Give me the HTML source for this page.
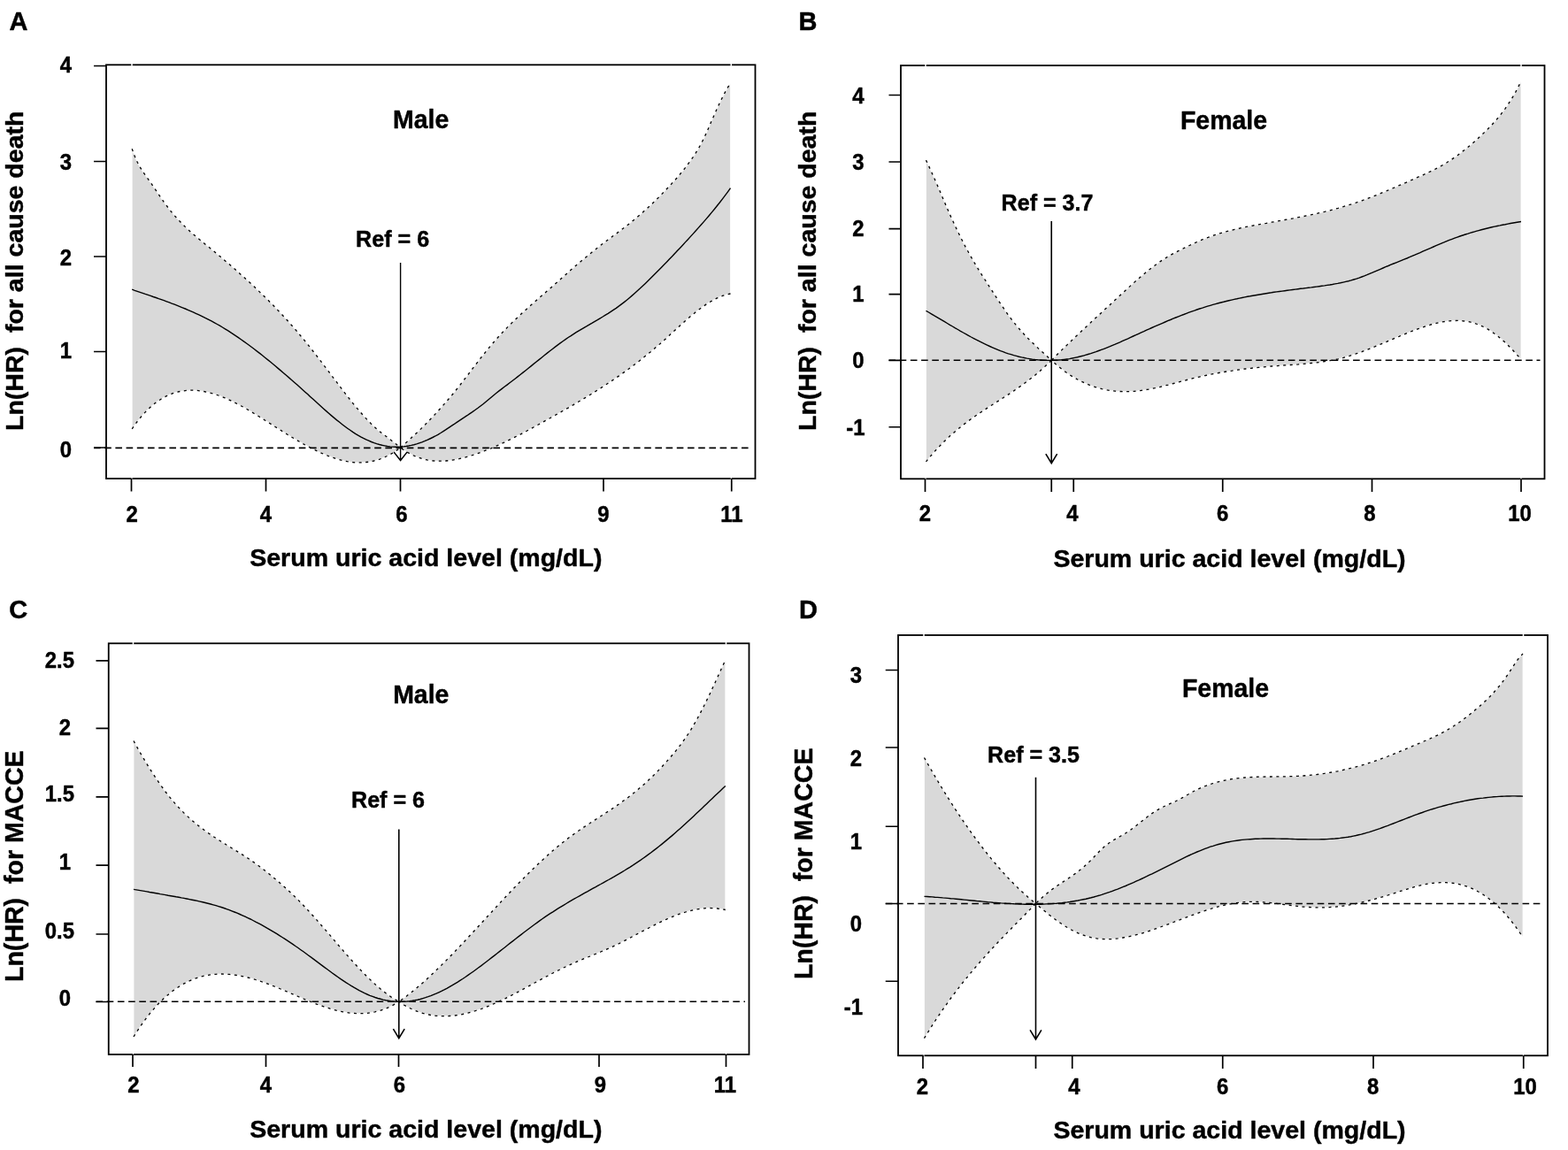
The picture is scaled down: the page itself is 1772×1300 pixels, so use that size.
<!DOCTYPE html>
<html lang="en"><head><meta charset="utf-8"><title>Serum uric acid level and Ln(HR)</title>
<style>
html,body{margin:0;padding:0;background:#fff;}
body{width:1772px;height:1300px;overflow:hidden;}
svg{display:block;}
text{font-family:"Liberation Sans",sans-serif;font-weight:700;fill:#000;stroke:#000;stroke-width:0.45px;stroke-linejoin:round;}
.lab{font-size:29px;}
.tk{font-size:23.9px;}
.ax{font-size:28.55px;}
.tt{font-size:28.5px;}
.rf{font-size:25.1px;}
.box{fill:none;stroke:#000;stroke-width:1.8;}
.tick{stroke:#000;stroke-width:1.7;fill:none;}
.band{fill:#d9d9d9;stroke:#fff;stroke-width:0.8;stroke-linejoin:round;}
.ci{fill:none;stroke:#000;stroke-width:1.3;stroke-dasharray:3 4.5;}
.mean{fill:none;stroke:#000;stroke-width:1.4;}
.zero{fill:none;stroke:#000;stroke-width:1.6;stroke-dasharray:7.6 4.6;}
.arr{fill:none;stroke:#000;stroke-width:1.6;}
</style></head><body>
<svg width="1772" height="1300" viewBox="0 0 1772 1300" role="img" aria-label="Ln(HR) versus serum uric acid level, four panels">
<rect x="0" y="0" width="1772" height="1300" fill="#fff"/>
<g>
<path class="band" d="M149.2 168.3L152.2 176.5L155.2 183.3L158.2 188.9L161.2 193.7L164.2 198.0L167.2 202.2L170.2 206.4L173.2 210.8L176.2 215.2L179.2 219.6L182.2 224.0L185.2 228.3L188.2 232.4L191.2 236.4L194.2 240.1L197.2 243.7L200.3 247.1L203.3 250.3L206.3 253.4L209.3 256.4L212.3 259.2L215.3 262.0L218.3 264.7L221.3 267.2L224.3 269.8L227.3 272.3L230.3 274.7L233.3 277.2L236.3 279.6L239.3 282.1L242.3 284.6L245.3 287.1L248.3 289.6L251.3 292.1L254.3 294.7L257.3 297.2L260.3 299.8L263.3 302.4L266.3 305.0L269.3 307.7L272.3 310.4L275.3 313.1L278.3 315.8L281.3 318.5L284.3 321.3L287.3 324.1L290.3 327.0L293.3 329.9L296.3 332.8L299.3 335.7L302.4 338.7L305.4 341.8L308.4 344.8L311.4 347.9L314.4 351.1L317.4 354.3L320.4 357.5L323.4 360.8L326.4 364.1L329.4 367.5L332.4 371.0L335.4 374.4L338.4 378.0L341.4 381.6L344.4 385.2L347.4 388.9L350.4 392.7L353.4 396.5L356.4 400.3L359.4 404.2L362.4 408.1L365.4 412.1L368.4 416.0L371.4 420.0L374.4 424.0L377.4 428.0L380.4 431.9L383.4 435.9L386.4 439.9L389.4 443.8L392.4 447.7L395.4 451.5L398.4 455.3L401.4 459.0L404.5 462.6L407.5 466.2L410.5 469.6L413.5 472.9L416.5 476.1L419.5 479.1L422.5 482.0L425.5 484.7L428.5 487.2L431.5 489.7L434.5 492.0L437.5 494.2L440.5 496.5L443.5 498.8L446.5 501.1L449.5 503.5L452.5 506.0L455.5 503.4L458.5 500.7L461.5 498.0L464.5 495.3L467.5 492.5L470.5 489.7L473.6 486.8L476.6 483.9L479.6 480.9L482.6 477.8L485.6 474.7L488.6 471.6L491.6 468.4L494.6 465.1L497.6 461.8L500.6 458.4L503.6 455.0L506.6 451.5L509.7 447.9L512.7 444.2L515.7 440.5L518.7 436.8L521.7 432.9L524.7 429.0L527.7 425.1L530.7 421.2L533.7 417.2L536.7 413.3L539.7 409.3L542.7 405.4L545.8 401.6L548.8 397.8L551.8 394.1L554.8 390.5L557.8 387.0L560.8 383.5L563.8 380.2L566.8 376.9L569.8 373.8L572.8 370.6L575.8 367.6L578.8 364.6L581.8 361.7L584.9 358.8L587.9 356.0L590.9 353.2L593.9 350.5L596.9 347.7L599.9 345.1L602.9 342.4L605.9 339.8L608.9 337.1L611.9 334.5L614.9 331.9L617.9 329.3L621.0 326.6L624.0 324.0L627.0 321.3L630.0 318.7L633.0 316.0L636.0 313.3L639.0 310.7L642.0 308.0L645.0 305.3L648.0 302.7L651.0 300.1L654.0 297.5L657.0 294.9L660.1 292.4L663.1 289.9L666.1 287.4L669.1 285.0L672.1 282.6L675.1 280.3L678.1 277.9L681.1 275.6L684.1 273.4L687.1 271.1L690.1 268.9L693.1 266.6L696.2 264.3L699.2 262.1L702.2 259.8L705.2 257.5L708.2 255.2L711.2 252.8L714.2 250.4L717.2 247.9L720.2 245.4L723.2 242.9L726.2 240.2L729.2 237.5L732.2 234.8L735.3 231.9L738.3 229.0L741.3 226.1L744.3 223.1L747.3 220.0L750.3 216.9L753.3 213.8L756.3 210.6L759.3 207.4L762.3 204.1L765.3 200.7L768.3 197.1L771.4 193.5L774.4 189.7L777.4 185.7L780.4 181.6L783.4 177.3L786.4 172.7L789.4 167.8L792.4 162.4L795.4 156.5L798.4 150.0L801.4 143.2L804.4 136.1L807.5 129.2L810.5 122.5L813.5 116.0L816.5 109.9L819.5 104.1L822.5 98.8L825.5 93.8L825.5 332.5L822.5 332.6L819.5 333.4L816.5 334.4L813.5 335.6L810.5 336.9L807.5 338.4L804.4 340.1L801.4 341.9L798.4 343.8L795.4 345.9L792.4 348.0L789.4 350.3L786.4 352.7L783.4 355.1L780.4 357.6L777.4 360.2L774.4 362.8L771.4 365.5L768.3 368.2L765.3 371.0L762.3 373.7L759.3 376.5L756.3 379.2L753.3 382.0L750.3 384.7L747.3 387.4L744.3 390.0L741.3 392.6L738.3 395.2L735.3 397.7L732.2 400.1L729.2 402.6L726.2 405.0L723.2 407.4L720.2 409.7L717.2 412.0L714.2 414.3L711.2 416.5L708.2 418.7L705.2 420.9L702.2 423.0L699.2 425.1L696.2 427.2L693.1 429.3L690.1 431.3L687.1 433.3L684.1 435.3L681.1 437.3L678.1 439.2L675.1 441.1L672.1 443.0L669.1 444.9L666.1 446.8L663.1 448.6L660.1 450.4L657.0 452.2L654.0 454.0L651.0 455.8L648.0 457.6L645.0 459.3L642.0 461.1L639.0 462.8L636.0 464.5L633.0 466.2L630.0 467.9L627.0 469.6L624.0 471.3L621.0 473.0L617.9 474.7L614.9 476.4L611.9 478.1L608.9 479.7L605.9 481.4L602.9 483.0L599.9 484.7L596.9 486.3L593.9 487.9L590.9 489.5L587.9 491.1L584.9 492.6L581.8 494.2L578.8 495.7L575.8 497.2L572.8 498.6L569.8 500.1L566.8 501.5L563.8 502.9L560.8 504.2L557.8 505.5L554.8 506.8L551.8 508.0L548.8 509.2L545.8 510.4L542.7 511.5L539.7 512.6L536.7 513.6L533.7 514.6L530.7 515.5L527.7 516.4L524.7 517.2L521.7 518.0L518.7 518.7L515.7 519.3L512.7 519.8L509.7 520.3L506.6 520.7L503.6 521.0L500.6 521.2L497.6 521.2L494.6 521.2L491.6 521.0L488.6 520.8L485.6 520.4L482.6 519.9L479.6 519.2L476.6 518.4L473.6 517.4L470.5 516.3L467.5 515.0L464.5 513.6L461.5 511.9L458.5 510.1L455.5 508.2L452.5 506.0L449.5 508.2L446.5 510.3L443.5 512.2L440.5 514.0L437.5 515.5L434.5 516.9L431.5 518.2L428.5 519.3L425.5 520.2L422.5 521.0L419.5 521.7L416.5 522.2L413.5 522.5L410.5 522.8L407.5 522.9L404.5 522.9L401.4 522.8L398.4 522.5L395.4 522.1L392.4 521.7L389.4 521.1L386.4 520.4L383.4 519.6L380.4 518.7L377.4 517.7L374.4 516.7L371.4 515.6L368.4 514.4L365.4 513.1L362.4 511.8L359.4 510.4L356.4 508.9L353.4 507.4L350.4 505.9L347.4 504.3L344.4 502.7L341.4 501.0L338.4 499.3L335.4 497.6L332.4 495.8L329.4 494.0L326.4 492.2L323.4 490.3L320.4 488.4L317.4 486.5L314.4 484.6L311.4 482.7L308.4 480.8L305.4 478.9L302.4 476.9L299.3 475.0L296.3 473.1L293.3 471.2L290.3 469.3L287.3 467.5L284.3 465.7L281.3 463.9L278.3 462.1L275.3 460.4L272.3 458.8L269.3 457.1L266.3 455.6L263.3 454.1L260.3 452.6L257.3 451.2L254.3 449.9L251.3 448.7L248.3 447.5L245.3 446.5L242.3 445.5L239.3 444.6L236.3 443.8L233.3 443.1L230.3 442.5L227.3 442.0L224.3 441.6L221.3 441.3L218.3 441.2L215.3 441.2L212.3 441.3L209.3 441.6L206.3 442.0L203.3 442.5L200.3 443.2L197.2 444.1L194.2 445.1L191.2 446.3L188.2 447.7L185.2 449.2L182.2 451.0L179.2 453.0L176.2 455.1L173.2 457.5L170.2 460.1L167.2 462.9L164.2 465.9L161.2 469.2L158.2 472.7L155.2 476.5L152.2 480.5L149.2 484.8Z"/>
<line class="zero" x1="106" y1="506.4" x2="848" y2="506.4"/>
<path class="ci" d="M149.2 168.3L152.2 176.5L155.2 183.3L158.2 188.9L161.2 193.7L164.2 198.0L167.2 202.2L170.2 206.4L173.2 210.8L176.2 215.2L179.2 219.6L182.2 224.0L185.2 228.3L188.2 232.4L191.2 236.4L194.2 240.1L197.2 243.7L200.3 247.1L203.3 250.3L206.3 253.4L209.3 256.4L212.3 259.2L215.3 262.0L218.3 264.7L221.3 267.2L224.3 269.8L227.3 272.3L230.3 274.7L233.3 277.2L236.3 279.6L239.3 282.1L242.3 284.6L245.3 287.1L248.3 289.6L251.3 292.1L254.3 294.7L257.3 297.2L260.3 299.8L263.3 302.4L266.3 305.0L269.3 307.7L272.3 310.4L275.3 313.1L278.3 315.8L281.3 318.5L284.3 321.3L287.3 324.1L290.3 327.0L293.3 329.9L296.3 332.8L299.3 335.7L302.4 338.7L305.4 341.8L308.4 344.8L311.4 347.9L314.4 351.1L317.4 354.3L320.4 357.5L323.4 360.8L326.4 364.1L329.4 367.5L332.4 371.0L335.4 374.4L338.4 378.0L341.4 381.6L344.4 385.2L347.4 388.9L350.4 392.7L353.4 396.5L356.4 400.3L359.4 404.2L362.4 408.1L365.4 412.1L368.4 416.0L371.4 420.0L374.4 424.0L377.4 428.0L380.4 431.9L383.4 435.9L386.4 439.9L389.4 443.8L392.4 447.7L395.4 451.5L398.4 455.3L401.4 459.0L404.5 462.6L407.5 466.2L410.5 469.6L413.5 472.9L416.5 476.1L419.5 479.1L422.5 482.0L425.5 484.7L428.5 487.2L431.5 489.7L434.5 492.0L437.5 494.2L440.5 496.5L443.5 498.8L446.5 501.1L449.5 503.5L452.5 506.0L455.5 503.4L458.5 500.7L461.5 498.0L464.5 495.3L467.5 492.5L470.5 489.7L473.6 486.8L476.6 483.9L479.6 480.9L482.6 477.8L485.6 474.7L488.6 471.6L491.6 468.4L494.6 465.1L497.6 461.8L500.6 458.4L503.6 455.0L506.6 451.5L509.7 447.9L512.7 444.2L515.7 440.5L518.7 436.8L521.7 432.9L524.7 429.0L527.7 425.1L530.7 421.2L533.7 417.2L536.7 413.3L539.7 409.3L542.7 405.4L545.8 401.6L548.8 397.8L551.8 394.1L554.8 390.5L557.8 387.0L560.8 383.5L563.8 380.2L566.8 376.9L569.8 373.8L572.8 370.6L575.8 367.6L578.8 364.6L581.8 361.7L584.9 358.8L587.9 356.0L590.9 353.2L593.9 350.5L596.9 347.7L599.9 345.1L602.9 342.4L605.9 339.8L608.9 337.1L611.9 334.5L614.9 331.9L617.9 329.3L621.0 326.6L624.0 324.0L627.0 321.3L630.0 318.7L633.0 316.0L636.0 313.3L639.0 310.7L642.0 308.0L645.0 305.3L648.0 302.7L651.0 300.1L654.0 297.5L657.0 294.9L660.1 292.4L663.1 289.9L666.1 287.4L669.1 285.0L672.1 282.6L675.1 280.3L678.1 277.9L681.1 275.6L684.1 273.4L687.1 271.1L690.1 268.9L693.1 266.6L696.2 264.3L699.2 262.1L702.2 259.8L705.2 257.5L708.2 255.2L711.2 252.8L714.2 250.4L717.2 247.9L720.2 245.4L723.2 242.9L726.2 240.2L729.2 237.5L732.2 234.8L735.3 231.9L738.3 229.0L741.3 226.1L744.3 223.1L747.3 220.0L750.3 216.9L753.3 213.8L756.3 210.6L759.3 207.4L762.3 204.1L765.3 200.7L768.3 197.1L771.4 193.5L774.4 189.7L777.4 185.7L780.4 181.6L783.4 177.3L786.4 172.7L789.4 167.8L792.4 162.4L795.4 156.5L798.4 150.0L801.4 143.2L804.4 136.1L807.5 129.2L810.5 122.5L813.5 116.0L816.5 109.9L819.5 104.1L822.5 98.8L825.5 93.8"/>
<path class="ci" d="M149.2 484.8L152.2 480.5L155.2 476.5L158.2 472.7L161.2 469.2L164.2 465.9L167.2 462.9L170.2 460.1L173.2 457.5L176.2 455.1L179.2 453.0L182.2 451.0L185.2 449.2L188.2 447.7L191.2 446.3L194.2 445.1L197.2 444.1L200.3 443.2L203.3 442.5L206.3 442.0L209.3 441.6L212.3 441.3L215.3 441.2L218.3 441.2L221.3 441.3L224.3 441.6L227.3 442.0L230.3 442.5L233.3 443.1L236.3 443.8L239.3 444.6L242.3 445.5L245.3 446.5L248.3 447.5L251.3 448.7L254.3 449.9L257.3 451.2L260.3 452.6L263.3 454.1L266.3 455.6L269.3 457.1L272.3 458.8L275.3 460.4L278.3 462.1L281.3 463.9L284.3 465.7L287.3 467.5L290.3 469.3L293.3 471.2L296.3 473.1L299.3 475.0L302.4 476.9L305.4 478.9L308.4 480.8L311.4 482.7L314.4 484.6L317.4 486.5L320.4 488.4L323.4 490.3L326.4 492.2L329.4 494.0L332.4 495.8L335.4 497.6L338.4 499.3L341.4 501.0L344.4 502.7L347.4 504.3L350.4 505.9L353.4 507.4L356.4 508.9L359.4 510.4L362.4 511.8L365.4 513.1L368.4 514.4L371.4 515.6L374.4 516.7L377.4 517.7L380.4 518.7L383.4 519.6L386.4 520.4L389.4 521.1L392.4 521.7L395.4 522.1L398.4 522.5L401.4 522.8L404.5 522.9L407.5 522.9L410.5 522.8L413.5 522.5L416.5 522.2L419.5 521.7L422.5 521.0L425.5 520.2L428.5 519.3L431.5 518.2L434.5 516.9L437.5 515.5L440.5 514.0L443.5 512.2L446.5 510.3L449.5 508.2L452.5 506.0L455.5 508.2L458.5 510.1L461.5 511.9L464.5 513.6L467.5 515.0L470.5 516.3L473.6 517.4L476.6 518.4L479.6 519.2L482.6 519.9L485.6 520.4L488.6 520.8L491.6 521.0L494.6 521.2L497.6 521.2L500.6 521.2L503.6 521.0L506.6 520.7L509.7 520.3L512.7 519.8L515.7 519.3L518.7 518.7L521.7 518.0L524.7 517.2L527.7 516.4L530.7 515.5L533.7 514.6L536.7 513.6L539.7 512.6L542.7 511.5L545.8 510.4L548.8 509.2L551.8 508.0L554.8 506.8L557.8 505.5L560.8 504.2L563.8 502.9L566.8 501.5L569.8 500.1L572.8 498.6L575.8 497.2L578.8 495.7L581.8 494.2L584.9 492.6L587.9 491.1L590.9 489.5L593.9 487.9L596.9 486.3L599.9 484.7L602.9 483.0L605.9 481.4L608.9 479.7L611.9 478.1L614.9 476.4L617.9 474.7L621.0 473.0L624.0 471.3L627.0 469.6L630.0 467.9L633.0 466.2L636.0 464.5L639.0 462.8L642.0 461.1L645.0 459.3L648.0 457.6L651.0 455.8L654.0 454.0L657.0 452.2L660.1 450.4L663.1 448.6L666.1 446.8L669.1 444.9L672.1 443.0L675.1 441.1L678.1 439.2L681.1 437.3L684.1 435.3L687.1 433.3L690.1 431.3L693.1 429.3L696.2 427.2L699.2 425.1L702.2 423.0L705.2 420.9L708.2 418.7L711.2 416.5L714.2 414.3L717.2 412.0L720.2 409.7L723.2 407.4L726.2 405.0L729.2 402.6L732.2 400.1L735.3 397.7L738.3 395.2L741.3 392.6L744.3 390.0L747.3 387.4L750.3 384.7L753.3 382.0L756.3 379.2L759.3 376.5L762.3 373.7L765.3 371.0L768.3 368.2L771.4 365.5L774.4 362.8L777.4 360.2L780.4 357.6L783.4 355.1L786.4 352.7L789.4 350.3L792.4 348.0L795.4 345.9L798.4 343.8L801.4 341.9L804.4 340.1L807.5 338.4L810.5 336.9L813.5 335.6L816.5 334.4L819.5 333.4L822.5 332.6L825.5 332.0"/>
<path class="mean" d="M149.2 327.2L152.2 328.3L155.2 329.3L158.2 330.3L161.2 331.3L164.2 332.4L167.2 333.4L170.2 334.4L173.2 335.5L176.3 336.5L179.3 337.6L182.3 338.6L185.3 339.7L188.3 340.8L191.3 341.9L194.3 343.1L197.3 344.2L200.3 345.4L203.3 346.6L206.3 347.8L209.3 349.0L212.3 350.3L215.3 351.6L218.3 352.9L221.3 354.3L224.3 355.7L227.4 357.1L230.4 358.6L233.4 360.1L236.4 361.6L239.4 363.2L242.4 364.8L245.4 366.5L248.4 368.2L251.4 370.0L254.4 371.8L257.4 373.7L260.4 375.6L263.4 377.6L266.4 379.6L269.4 381.6L272.4 383.7L275.4 385.9L278.4 388.0L281.5 390.2L284.5 392.5L287.5 394.7L290.5 397.1L293.5 399.4L296.5 401.8L299.5 404.2L302.5 406.6L305.5 409.0L308.5 411.5L311.5 414.0L314.5 416.6L317.5 419.1L320.5 421.7L323.5 424.3L326.5 426.9L329.5 429.5L332.6 432.2L335.6 434.8L338.6 437.5L341.6 440.2L344.6 442.9L347.6 445.6L350.6 448.4L353.6 451.1L356.6 453.8L359.6 456.6L362.6 459.3L365.6 462.0L368.6 464.6L371.6 467.3L374.6 469.9L377.6 472.4L380.6 474.9L383.7 477.3L386.7 479.7L389.7 482.0L392.7 484.2L395.7 486.3L398.7 488.4L401.7 490.3L404.7 492.1L407.7 493.8L410.7 495.4L413.7 496.9L416.7 498.2L419.7 499.5L422.7 500.6L425.7 501.6L428.7 502.5L431.7 503.3L434.7 503.9L437.8 504.5L440.8 504.9L443.8 505.1L446.8 505.2L449.8 505.3L452.8 505.1L455.8 504.9L458.8 504.5L461.8 504.0L464.8 503.4L467.8 502.7L470.8 501.9L473.8 500.9L476.8 499.9L479.8 498.7L482.8 497.4L485.8 496.0L488.9 494.5L491.9 493.0L494.9 491.3L497.9 489.5L500.9 487.6L503.9 485.7L506.9 483.7L509.9 481.7L512.9 479.7L515.9 477.6L518.9 475.6L521.9 473.6L524.9 471.7L527.9 469.7L530.9 467.6L533.9 465.6L536.9 463.5L540.0 461.3L543.0 459.0L546.0 456.7L549.0 454.2L552.0 451.7L555.0 449.2L558.0 446.7L561.0 444.3L564.0 441.9L567.0 439.6L570.0 437.3L573.0 435.1L576.0 432.8L579.0 430.5L582.0 428.2L585.0 425.9L588.0 423.5L591.0 421.1L594.1 418.7L597.1 416.3L600.1 413.9L603.1 411.4L606.1 409.0L609.1 406.6L612.1 404.2L615.1 401.7L618.1 399.4L621.1 397.0L624.1 394.7L627.1 392.4L630.1 390.1L633.1 387.9L636.1 385.7L639.1 383.6L642.1 381.5L645.2 379.6L648.2 377.6L651.2 375.7L654.2 373.9L657.2 372.1L660.2 370.3L663.2 368.6L666.2 366.8L669.2 365.1L672.2 363.3L675.2 361.6L678.2 359.8L681.2 358.0L684.2 356.1L687.2 354.3L690.2 352.3L693.2 350.3L696.3 348.3L699.3 346.1L702.3 343.9L705.3 341.6L708.3 339.2L711.3 336.7L714.3 334.1L717.3 331.5L720.3 328.8L723.3 326.1L726.3 323.2L729.3 320.4L732.3 317.5L735.3 314.5L738.3 311.5L741.3 308.5L744.3 305.5L747.3 302.4L750.4 299.3L753.4 296.2L756.4 293.1L759.4 290.0L762.4 286.8L765.4 283.6L768.4 280.4L771.4 277.2L774.4 273.9L777.4 270.7L780.4 267.4L783.4 264.1L786.4 260.8L789.4 257.4L792.4 254.0L795.4 250.6L798.4 247.1L801.5 243.5L804.5 239.9L807.5 236.3L810.5 232.5L813.5 228.8L816.5 224.9L819.5 220.9L822.5 216.8L825.5 212.6"/>
<path class="arr" style="stroke-width:1.4" d="M452.6 297L452.6 520.5M445.1 511.0L452.6 520.5L460.1 511.0"/>
<rect class="box" x="120" y="73.3" width="733.5" height="467.7"/>
<rect x="148.25" y="71.8" width="1.5" height="3" fill="#fff"/>
<rect x="148.4" y="539.5" width="1.2" height="3" fill="#fff" opacity="0.8"/>
<rect x="825.55" y="71.8" width="1.5" height="3" fill="#fff"/>
<rect x="825.6999999999999" y="539.5" width="1.2" height="3" fill="#fff" opacity="0.8"/>
<path class="tick" d="M106 74.5H120M106 182.5H120M106 290H120M106 397.5H120M106 506H120M148.5 541.0V555.5M300.5 541.0V555.5M452.5 541.0V555.5M682 541.0V555.5M826.75 541.0V555.5"/>
<text class="tk" text-anchor="end" transform="translate(81 81.8) scale(1 1.04)">4</text>
<text class="tk" text-anchor="end" transform="translate(81 191.8) scale(1 1.04)">3</text>
<text class="tk" text-anchor="end" transform="translate(81 300.0) scale(1 1.04)">2</text>
<text class="tk" text-anchor="end" transform="translate(81 405.0) scale(1 1.04)">1</text>
<text class="tk" text-anchor="end" transform="translate(81 516.5) scale(1 1.04)">0</text>
<text class="tk" text-anchor="middle" transform="translate(149.25 590) scale(1 1.04)">2</text>
<text class="tk" text-anchor="middle" transform="translate(300.4 590) scale(1 1.04)">4</text>
<text class="tk" text-anchor="middle" transform="translate(454 590) scale(1 1.04)">6</text>
<text class="tk" text-anchor="middle" transform="translate(682 590) scale(1 1.04)">9</text>
<text class="tk" text-anchor="middle" transform="translate(827 590) scale(1 1.04)">11</text>
<text class="tt" text-anchor="middle" transform="translate(475.6 144.5) scale(1 1.02)">Male</text>
<text class="rf" text-anchor="middle" transform="translate(443.6 278.8) scale(1 1.02)">Ref = 6</text>
<text class="ax" text-anchor="middle" transform="translate(481.3 639.5) scale(1 1.0)">Serum uric acid level (mg/dL)</text>
<text class="ax" text-anchor="middle" xml:space="preserve" style="white-space:pre" transform="translate(26.3 306.3) rotate(-90) scale(1 0.98)">Ln(HR)  for all cause death</text>
<text class="lab" transform="translate(10.5 34.3) scale(1 1.04)">A</text>
</g>
<g>
<path class="band" d="M1046.5 181.1L1049.5 187.4L1052.5 194.0L1055.5 200.8L1058.6 207.7L1061.6 214.8L1064.6 221.9L1067.6 228.9L1070.6 235.9L1073.6 242.8L1076.7 249.5L1079.7 256.0L1082.7 262.3L1085.7 268.5L1088.7 274.4L1091.7 280.2L1094.8 285.8L1097.8 291.1L1100.8 296.4L1103.8 301.4L1106.8 306.3L1109.8 311.1L1112.9 315.9L1115.9 320.6L1118.9 325.2L1121.9 329.9L1124.9 334.6L1127.9 339.2L1130.9 343.7L1134.0 348.2L1137.0 352.6L1140.0 356.8L1143.0 360.8L1146.0 364.7L1149.0 368.4L1152.1 372.0L1155.1 375.4L1158.1 378.7L1161.1 381.8L1164.1 384.9L1167.1 387.8L1170.2 390.7L1173.2 393.6L1176.2 396.4L1179.2 399.1L1182.2 401.8L1185.2 404.6L1188.2 407.3L1191.2 404.3L1194.2 401.3L1197.2 398.3L1200.2 395.4L1203.2 392.5L1206.2 389.6L1209.2 386.7L1212.2 383.8L1215.2 380.9L1218.2 378.1L1221.2 375.3L1224.2 372.5L1227.2 369.7L1230.2 366.9L1233.2 364.1L1236.2 361.3L1239.2 358.5L1242.2 355.7L1245.2 353.0L1248.2 350.2L1251.2 347.4L1254.2 344.7L1257.2 341.9L1260.2 339.1L1263.2 336.3L1266.2 333.5L1269.2 330.8L1272.2 328.0L1275.2 325.2L1278.2 322.5L1281.2 319.8L1284.2 317.1L1287.2 314.5L1290.2 311.9L1293.2 309.4L1296.2 306.9L1299.2 304.5L1302.2 302.2L1305.2 299.9L1308.2 297.7L1311.2 295.6L1314.2 293.6L1317.2 291.7L1320.2 289.9L1323.2 288.2L1326.2 286.5L1329.2 284.9L1332.2 283.4L1335.2 281.9L1338.2 280.4L1341.2 279.0L1344.2 277.5L1347.2 276.1L1350.2 274.7L1353.2 273.3L1356.2 272.0L1359.2 270.7L1362.2 269.5L1365.2 268.4L1368.2 267.2L1371.2 266.2L1374.2 265.2L1377.2 264.2L1380.2 263.3L1383.2 262.4L1386.2 261.6L1389.2 260.8L1392.2 260.1L1395.2 259.3L1398.2 258.6L1401.1 258.0L1404.1 257.3L1407.1 256.7L1410.1 256.1L1413.1 255.5L1416.1 255.0L1419.1 254.4L1422.1 253.9L1425.1 253.3L1428.1 252.8L1431.1 252.3L1434.1 251.7L1437.1 251.2L1440.1 250.7L1443.1 250.1L1446.1 249.6L1449.1 249.1L1452.1 248.5L1455.1 248.0L1458.1 247.4L1461.1 246.9L1464.1 246.3L1467.1 245.7L1470.1 245.1L1473.1 244.6L1476.1 243.9L1479.1 243.3L1482.1 242.7L1485.1 242.0L1488.1 241.4L1491.1 240.7L1494.1 240.0L1497.1 239.3L1500.1 238.5L1503.1 237.8L1506.1 237.0L1509.1 236.2L1512.1 235.4L1515.1 234.5L1518.1 233.6L1521.1 232.7L1524.1 231.8L1527.1 230.9L1530.1 229.9L1533.1 228.9L1536.1 227.8L1539.1 226.8L1542.1 225.7L1545.1 224.6L1548.1 223.4L1551.1 222.3L1554.1 221.1L1557.1 219.9L1560.1 218.7L1563.1 217.4L1566.1 216.2L1569.1 214.9L1572.1 213.6L1575.1 212.3L1578.1 211.0L1581.1 209.7L1584.1 208.4L1587.1 207.1L1590.1 205.8L1593.1 204.5L1596.1 203.1L1599.1 201.8L1602.1 200.4L1605.1 199.1L1608.1 197.8L1611.1 196.4L1614.0 195.0L1617.0 193.6L1620.0 192.2L1623.0 190.6L1626.0 189.0L1629.0 187.4L1632.0 185.6L1635.0 183.8L1638.0 181.8L1641.0 179.9L1644.0 177.8L1647.0 175.7L1650.0 173.4L1653.0 171.1L1656.0 168.8L1659.0 166.3L1662.0 163.8L1665.0 161.2L1668.0 158.6L1671.0 155.8L1674.0 153.0L1677.0 150.1L1680.0 147.2L1683.0 144.1L1686.0 141.0L1689.0 137.7L1692.0 134.3L1695.0 130.7L1698.0 126.8L1701.0 122.8L1704.0 118.4L1707.0 113.8L1710.0 108.9L1713.0 103.6L1716.0 97.9L1719.0 91.8L1719.0 406.0L1716.0 402.9L1713.0 399.5L1710.0 396.2L1707.0 393.1L1704.0 390.1L1701.0 387.2L1698.0 384.5L1695.0 381.9L1692.0 379.4L1689.0 377.2L1686.0 375.0L1683.0 373.1L1680.0 371.3L1677.0 369.7L1674.0 368.3L1671.0 367.0L1668.0 366.0L1665.0 365.0L1662.0 364.2L1659.0 363.6L1656.0 363.1L1653.0 362.8L1650.0 362.5L1647.0 362.4L1644.0 362.5L1641.0 362.6L1638.0 362.8L1635.0 363.2L1632.0 363.6L1629.0 364.1L1626.0 364.7L1623.0 365.4L1620.0 366.2L1617.0 367.0L1614.0 367.9L1611.1 368.8L1608.1 369.8L1605.1 370.9L1602.1 371.9L1599.1 373.1L1596.1 374.2L1593.1 375.4L1590.1 376.6L1587.1 377.8L1584.1 379.0L1581.1 380.3L1578.1 381.5L1575.1 382.8L1572.1 384.1L1569.1 385.4L1566.1 386.7L1563.1 387.9L1560.1 389.2L1557.1 390.4L1554.1 391.7L1551.1 392.9L1548.1 394.1L1545.1 395.3L1542.1 396.4L1539.1 397.6L1536.1 398.7L1533.1 399.7L1530.1 400.7L1527.1 401.7L1524.1 402.6L1521.1 403.5L1518.1 404.3L1515.1 405.0L1512.1 405.8L1509.1 406.4L1506.1 407.0L1503.1 407.6L1500.1 408.1L1497.1 408.6L1494.1 409.1L1491.1 409.5L1488.1 409.9L1485.1 410.2L1482.1 410.5L1479.1 410.8L1476.1 411.1L1473.1 411.4L1470.1 411.6L1467.1 411.9L1464.1 412.1L1461.1 412.3L1458.1 412.5L1455.1 412.7L1452.1 412.9L1449.1 413.1L1446.1 413.4L1443.1 413.6L1440.1 413.8L1437.1 414.0L1434.1 414.3L1431.1 414.5L1428.1 414.8L1425.1 415.1L1422.1 415.4L1419.1 415.7L1416.1 416.0L1413.1 416.3L1410.1 416.7L1407.1 417.0L1404.1 417.4L1401.1 417.8L1398.2 418.2L1395.2 418.6L1392.2 419.1L1389.2 419.5L1386.2 420.0L1383.2 420.5L1380.2 421.0L1377.2 421.5L1374.2 422.1L1371.2 422.6L1368.2 423.2L1365.2 423.8L1362.2 424.5L1359.2 425.1L1356.2 425.8L1353.2 426.5L1350.2 427.2L1347.2 427.9L1344.2 428.7L1341.2 429.5L1338.2 430.3L1335.2 431.1L1332.2 431.9L1329.2 432.7L1326.2 433.5L1323.2 434.3L1320.2 435.1L1317.2 435.8L1314.2 436.6L1311.2 437.3L1308.2 438.0L1305.2 438.7L1302.2 439.3L1299.2 439.9L1296.2 440.4L1293.2 440.9L1290.2 441.3L1287.2 441.7L1284.2 442.0L1281.2 442.3L1278.2 442.5L1275.2 442.6L1272.2 442.7L1269.2 442.6L1266.2 442.5L1263.2 442.4L1260.2 442.1L1257.2 441.8L1254.2 441.4L1251.2 440.9L1248.2 440.3L1245.2 439.6L1242.2 438.8L1239.2 438.0L1236.2 437.0L1233.2 436.0L1230.2 434.8L1227.2 433.6L1224.2 432.2L1221.2 430.8L1218.2 429.2L1215.2 427.5L1212.2 425.8L1209.2 423.9L1206.2 421.9L1203.2 419.7L1200.2 417.5L1197.2 415.1L1194.2 412.6L1191.2 410.0L1188.2 407.3L1185.2 410.3L1182.2 413.1L1179.2 415.9L1176.2 418.6L1173.2 421.2L1170.2 423.7L1167.1 426.2L1164.1 428.5L1161.1 430.8L1158.1 433.1L1155.1 435.3L1152.1 437.4L1149.0 439.5L1146.0 441.6L1143.0 443.6L1140.0 445.6L1137.0 447.5L1134.0 449.5L1130.9 451.4L1127.9 453.4L1124.9 455.3L1121.9 457.2L1118.9 459.2L1115.9 461.1L1112.9 463.1L1109.8 465.1L1106.8 467.1L1103.8 469.2L1100.8 471.3L1097.8 473.4L1094.8 475.6L1091.7 477.9L1088.7 480.2L1085.7 482.5L1082.7 485.0L1079.7 487.5L1076.7 490.1L1073.6 492.8L1070.6 495.6L1067.6 498.5L1064.6 501.5L1061.6 504.6L1058.6 507.8L1055.5 511.1L1052.5 514.6L1049.5 518.2L1046.5 521.9Z"/>
<line class="zero" x1="1004.5" y1="407.3" x2="1740.5" y2="407.3"/>
<path class="ci" d="M1046.5 181.1L1049.5 187.4L1052.5 194.0L1055.5 200.8L1058.6 207.7L1061.6 214.8L1064.6 221.9L1067.6 228.9L1070.6 235.9L1073.6 242.8L1076.7 249.5L1079.7 256.0L1082.7 262.3L1085.7 268.5L1088.7 274.4L1091.7 280.2L1094.8 285.8L1097.8 291.1L1100.8 296.4L1103.8 301.4L1106.8 306.3L1109.8 311.1L1112.9 315.9L1115.9 320.6L1118.9 325.2L1121.9 329.9L1124.9 334.6L1127.9 339.2L1130.9 343.7L1134.0 348.2L1137.0 352.6L1140.0 356.8L1143.0 360.8L1146.0 364.7L1149.0 368.4L1152.1 372.0L1155.1 375.4L1158.1 378.7L1161.1 381.8L1164.1 384.9L1167.1 387.8L1170.2 390.7L1173.2 393.6L1176.2 396.4L1179.2 399.1L1182.2 401.8L1185.2 404.6L1188.2 407.3L1191.2 404.3L1194.2 401.3L1197.2 398.3L1200.2 395.4L1203.2 392.5L1206.2 389.6L1209.2 386.7L1212.2 383.8L1215.2 380.9L1218.2 378.1L1221.2 375.3L1224.2 372.5L1227.2 369.7L1230.2 366.9L1233.2 364.1L1236.2 361.3L1239.2 358.5L1242.2 355.7L1245.2 353.0L1248.2 350.2L1251.2 347.4L1254.2 344.7L1257.2 341.9L1260.2 339.1L1263.2 336.3L1266.2 333.5L1269.2 330.8L1272.2 328.0L1275.2 325.2L1278.2 322.5L1281.2 319.8L1284.2 317.1L1287.2 314.5L1290.2 311.9L1293.2 309.4L1296.2 306.9L1299.2 304.5L1302.2 302.2L1305.2 299.9L1308.2 297.7L1311.2 295.6L1314.2 293.6L1317.2 291.7L1320.2 289.9L1323.2 288.2L1326.2 286.5L1329.2 284.9L1332.2 283.4L1335.2 281.9L1338.2 280.4L1341.2 279.0L1344.2 277.5L1347.2 276.1L1350.2 274.7L1353.2 273.3L1356.2 272.0L1359.2 270.7L1362.2 269.5L1365.2 268.4L1368.2 267.2L1371.2 266.2L1374.2 265.2L1377.2 264.2L1380.2 263.3L1383.2 262.4L1386.2 261.6L1389.2 260.8L1392.2 260.1L1395.2 259.3L1398.2 258.6L1401.1 258.0L1404.1 257.3L1407.1 256.7L1410.1 256.1L1413.1 255.5L1416.1 255.0L1419.1 254.4L1422.1 253.9L1425.1 253.3L1428.1 252.8L1431.1 252.3L1434.1 251.7L1437.1 251.2L1440.1 250.7L1443.1 250.1L1446.1 249.6L1449.1 249.1L1452.1 248.5L1455.1 248.0L1458.1 247.4L1461.1 246.9L1464.1 246.3L1467.1 245.7L1470.1 245.1L1473.1 244.6L1476.1 243.9L1479.1 243.3L1482.1 242.7L1485.1 242.0L1488.1 241.4L1491.1 240.7L1494.1 240.0L1497.1 239.3L1500.1 238.5L1503.1 237.8L1506.1 237.0L1509.1 236.2L1512.1 235.4L1515.1 234.5L1518.1 233.6L1521.1 232.7L1524.1 231.8L1527.1 230.9L1530.1 229.9L1533.1 228.9L1536.1 227.8L1539.1 226.8L1542.1 225.7L1545.1 224.6L1548.1 223.4L1551.1 222.3L1554.1 221.1L1557.1 219.9L1560.1 218.7L1563.1 217.4L1566.1 216.2L1569.1 214.9L1572.1 213.6L1575.1 212.3L1578.1 211.0L1581.1 209.7L1584.1 208.4L1587.1 207.1L1590.1 205.8L1593.1 204.5L1596.1 203.1L1599.1 201.8L1602.1 200.4L1605.1 199.1L1608.1 197.8L1611.1 196.4L1614.0 195.0L1617.0 193.6L1620.0 192.2L1623.0 190.6L1626.0 189.0L1629.0 187.4L1632.0 185.6L1635.0 183.8L1638.0 181.8L1641.0 179.9L1644.0 177.8L1647.0 175.7L1650.0 173.4L1653.0 171.1L1656.0 168.8L1659.0 166.3L1662.0 163.8L1665.0 161.2L1668.0 158.6L1671.0 155.8L1674.0 153.0L1677.0 150.1L1680.0 147.2L1683.0 144.1L1686.0 141.0L1689.0 137.7L1692.0 134.3L1695.0 130.7L1698.0 126.8L1701.0 122.8L1704.0 118.4L1707.0 113.8L1710.0 108.9L1713.0 103.6L1716.0 97.9L1719.0 91.8"/>
<path class="ci" d="M1046.5 521.9L1049.5 518.2L1052.5 514.6L1055.5 511.1L1058.6 507.8L1061.6 504.6L1064.6 501.5L1067.6 498.5L1070.6 495.6L1073.6 492.8L1076.7 490.1L1079.7 487.5L1082.7 485.0L1085.7 482.5L1088.7 480.2L1091.7 477.9L1094.8 475.6L1097.8 473.4L1100.8 471.3L1103.8 469.2L1106.8 467.1L1109.8 465.1L1112.9 463.1L1115.9 461.1L1118.9 459.2L1121.9 457.2L1124.9 455.3L1127.9 453.4L1130.9 451.4L1134.0 449.5L1137.0 447.5L1140.0 445.6L1143.0 443.6L1146.0 441.6L1149.0 439.5L1152.1 437.4L1155.1 435.3L1158.1 433.1L1161.1 430.8L1164.1 428.5L1167.1 426.2L1170.2 423.7L1173.2 421.2L1176.2 418.6L1179.2 415.9L1182.2 413.1L1185.2 410.3L1188.2 407.3L1191.2 410.0L1194.2 412.6L1197.2 415.1L1200.2 417.5L1203.2 419.7L1206.2 421.9L1209.2 423.9L1212.2 425.8L1215.2 427.5L1218.2 429.2L1221.2 430.8L1224.2 432.2L1227.2 433.6L1230.2 434.8L1233.2 436.0L1236.2 437.0L1239.2 438.0L1242.2 438.8L1245.2 439.6L1248.2 440.3L1251.2 440.9L1254.2 441.4L1257.2 441.8L1260.2 442.1L1263.2 442.4L1266.2 442.5L1269.2 442.6L1272.2 442.7L1275.2 442.6L1278.2 442.5L1281.2 442.3L1284.2 442.0L1287.2 441.7L1290.2 441.3L1293.2 440.9L1296.2 440.4L1299.2 439.9L1302.2 439.3L1305.2 438.7L1308.2 438.0L1311.2 437.3L1314.2 436.6L1317.2 435.8L1320.2 435.1L1323.2 434.3L1326.2 433.5L1329.2 432.7L1332.2 431.9L1335.2 431.1L1338.2 430.3L1341.2 429.5L1344.2 428.7L1347.2 427.9L1350.2 427.2L1353.2 426.5L1356.2 425.8L1359.2 425.1L1362.2 424.5L1365.2 423.8L1368.2 423.2L1371.2 422.6L1374.2 422.1L1377.2 421.5L1380.2 421.0L1383.2 420.5L1386.2 420.0L1389.2 419.5L1392.2 419.1L1395.2 418.6L1398.2 418.2L1401.1 417.8L1404.1 417.4L1407.1 417.0L1410.1 416.7L1413.1 416.3L1416.1 416.0L1419.1 415.7L1422.1 415.4L1425.1 415.1L1428.1 414.8L1431.1 414.5L1434.1 414.3L1437.1 414.0L1440.1 413.8L1443.1 413.6L1446.1 413.4L1449.1 413.1L1452.1 412.9L1455.1 412.7L1458.1 412.5L1461.1 412.3L1464.1 412.1L1467.1 411.9L1470.1 411.6L1473.1 411.4L1476.1 411.1L1479.1 410.8L1482.1 410.5L1485.1 410.2L1488.1 409.9L1491.1 409.5L1494.1 409.1L1497.1 408.6L1500.1 408.1L1503.1 407.6L1506.1 407.0L1509.1 406.4L1512.1 405.8L1515.1 405.0L1518.1 404.3L1521.1 403.5L1524.1 402.6L1527.1 401.7L1530.1 400.7L1533.1 399.7L1536.1 398.7L1539.1 397.6L1542.1 396.4L1545.1 395.3L1548.1 394.1L1551.1 392.9L1554.1 391.7L1557.1 390.4L1560.1 389.2L1563.1 387.9L1566.1 386.7L1569.1 385.4L1572.1 384.1L1575.1 382.8L1578.1 381.5L1581.1 380.3L1584.1 379.0L1587.1 377.8L1590.1 376.6L1593.1 375.4L1596.1 374.2L1599.1 373.1L1602.1 371.9L1605.1 370.9L1608.1 369.8L1611.1 368.8L1614.0 367.9L1617.0 367.0L1620.0 366.2L1623.0 365.4L1626.0 364.7L1629.0 364.1L1632.0 363.6L1635.0 363.2L1638.0 362.8L1641.0 362.6L1644.0 362.5L1647.0 362.4L1650.0 362.5L1653.0 362.8L1656.0 363.1L1659.0 363.6L1662.0 364.2L1665.0 365.0L1668.0 366.0L1671.0 367.0L1674.0 368.3L1677.0 369.7L1680.0 371.3L1683.0 373.1L1686.0 375.0L1689.0 377.2L1692.0 379.4L1695.0 381.9L1698.0 384.5L1701.0 387.2L1704.0 390.1L1707.0 393.1L1710.0 396.2L1713.0 399.5L1716.0 402.9L1719.0 406.4"/>
<path class="mean" d="M1046.5 351.3L1049.5 353.0L1052.5 354.8L1055.5 356.6L1058.5 358.3L1061.5 360.1L1064.5 361.9L1067.5 363.7L1070.5 365.5L1073.5 367.3L1076.5 369.0L1079.5 370.8L1082.5 372.5L1085.5 374.3L1088.5 376.0L1091.5 377.7L1094.5 379.3L1097.5 381.0L1100.5 382.6L1103.5 384.2L1106.5 385.7L1109.5 387.2L1112.5 388.7L1115.6 390.1L1118.6 391.5L1121.6 392.8L1124.6 394.1L1127.6 395.4L1130.6 396.6L1133.6 397.7L1136.6 398.8L1139.6 399.8L1142.6 400.7L1145.6 401.6L1148.6 402.4L1151.6 403.2L1154.6 403.9L1157.6 404.5L1160.6 405.1L1163.6 405.6L1166.6 406.1L1169.6 406.5L1172.6 406.8L1175.6 407.0L1178.6 407.2L1181.6 407.4L1184.6 407.4L1187.6 407.4L1190.6 407.3L1193.6 407.2L1196.6 407.0L1199.6 406.8L1202.6 406.4L1205.6 406.0L1208.6 405.6L1211.6 405.0L1214.6 404.4L1217.6 403.8L1220.6 403.0L1223.6 402.3L1226.6 401.4L1229.6 400.5L1232.6 399.6L1235.6 398.6L1238.6 397.6L1241.6 396.5L1244.6 395.4L1247.6 394.3L1250.7 393.1L1253.7 391.9L1256.7 390.6L1259.7 389.4L1262.7 388.1L1265.7 386.8L1268.7 385.4L1271.7 384.1L1274.7 382.8L1277.7 381.4L1280.7 380.0L1283.7 378.7L1286.7 377.3L1289.7 375.9L1292.7 374.6L1295.7 373.2L1298.7 371.9L1301.7 370.5L1304.7 369.2L1307.7 367.9L1310.7 366.6L1313.7 365.3L1316.7 364.0L1319.7 362.7L1322.7 361.5L1325.7 360.2L1328.7 359.0L1331.7 357.8L1334.7 356.6L1337.7 355.5L1340.7 354.3L1343.7 353.2L1346.7 352.1L1349.7 351.1L1352.7 350.0L1355.7 349.0L1358.7 348.1L1361.7 347.1L1364.7 346.2L1367.7 345.3L1370.7 344.4L1373.7 343.6L1376.7 342.8L1379.7 342.0L1382.8 341.3L1385.8 340.5L1388.8 339.8L1391.8 339.1L1394.8 338.4L1397.8 337.8L1400.8 337.1L1403.8 336.5L1406.8 335.9L1409.8 335.3L1412.8 334.8L1415.8 334.2L1418.8 333.7L1421.8 333.2L1424.8 332.7L1427.8 332.2L1430.8 331.7L1433.8 331.2L1436.8 330.8L1439.8 330.3L1442.8 329.9L1445.8 329.5L1448.8 329.1L1451.8 328.7L1454.8 328.3L1457.8 327.9L1460.8 327.5L1463.8 327.1L1466.8 326.7L1469.8 326.3L1472.8 326.0L1475.8 325.6L1478.8 325.2L1481.8 324.9L1484.8 324.5L1487.8 324.1L1490.8 323.7L1493.8 323.3L1496.8 322.9L1499.8 322.4L1502.8 322.0L1505.8 321.5L1508.8 320.9L1511.8 320.4L1514.8 319.8L1517.9 319.1L1520.9 318.4L1523.9 317.7L1526.9 316.9L1529.9 316.0L1532.9 315.1L1535.9 314.1L1538.9 313.0L1541.9 311.9L1544.9 310.7L1547.9 309.4L1550.9 308.2L1553.9 306.9L1556.9 305.6L1559.9 304.3L1562.9 303.0L1565.9 301.7L1568.9 300.5L1571.9 299.2L1574.9 298.0L1577.9 296.8L1580.9 295.6L1583.9 294.4L1586.9 293.2L1589.9 292.0L1592.9 290.7L1595.9 289.4L1598.9 288.2L1601.9 286.9L1604.9 285.6L1607.9 284.2L1610.9 282.9L1613.9 281.6L1616.9 280.3L1619.9 279.0L1622.9 277.7L1625.9 276.4L1628.9 275.1L1631.9 273.9L1634.9 272.6L1637.9 271.4L1640.9 270.3L1643.9 269.2L1646.9 268.1L1649.9 267.0L1653.0 266.0L1656.0 265.0L1659.0 264.1L1662.0 263.1L1665.0 262.3L1668.0 261.4L1671.0 260.6L1674.0 259.8L1677.0 259.0L1680.0 258.2L1683.0 257.5L1686.0 256.8L1689.0 256.1L1692.0 255.5L1695.0 254.9L1698.0 254.2L1701.0 253.7L1704.0 253.1L1707.0 252.5L1710.0 252.0L1713.0 251.5L1716.0 251.0L1719.0 250.5"/>
<path class="arr" d="M1188.25 250L1188.25 523.75M1181.85 513.15L1188.25 523.75L1194.65 513.15"/>
<rect class="box" x="1018" y="74" width="727.5" height="467.29999999999995"/>
<rect x="1045.25" y="72.5" width="1.5" height="3" fill="#fff"/>
<rect x="1045.4" y="539.8" width="1.2" height="3" fill="#fff" opacity="0.8"/>
<rect x="1718.25" y="72.5" width="1.5" height="3" fill="#fff"/>
<rect x="1718.4" y="539.8" width="1.2" height="3" fill="#fff" opacity="0.8"/>
<path class="tick" d="M1004.5 107.5H1018M1004.5 183H1018M1004.5 258.6H1018M1004.5 332.6H1018M1004.5 407.3H1018M1004.5 482.75H1018M1045.5 541.3V556M1188.25 541.3V556M1213.25 541.3V556M1381.75 541.3V556M1550.5 541.3V556M1719 541.3V556"/>
<text class="tk" text-anchor="end" transform="translate(976.5 116.5) scale(1 1.04)">4</text>
<text class="tk" text-anchor="end" transform="translate(976.5 192) scale(1 1.04)">3</text>
<text class="tk" text-anchor="end" transform="translate(976.5 267) scale(1 1.04)">2</text>
<text class="tk" text-anchor="end" transform="translate(976.5 341) scale(1 1.04)">1</text>
<text class="tk" text-anchor="end" transform="translate(976.5 415.5) scale(1 1.04)">0</text>
<text class="tk" text-anchor="end" transform="translate(977.5 491.5) scale(1 1.04)">-1</text>
<text class="tk" text-anchor="middle" transform="translate(1045.5 588.5) scale(1 1.04)">2</text>
<text class="tk" text-anchor="middle" transform="translate(1212 588.5) scale(1 1.04)">4</text>
<text class="tk" text-anchor="middle" transform="translate(1381.75 588.5) scale(1 1.04)">6</text>
<text class="tk" text-anchor="middle" transform="translate(1548 588.5) scale(1 1.04)">8</text>
<text class="tk" text-anchor="middle" transform="translate(1717.5 588.5) scale(1 1.04)">10</text>
<text class="tt" text-anchor="middle" transform="translate(1383 145.5) scale(1 1.02)">Female</text>
<text class="rf" text-anchor="middle" transform="translate(1183.5 237.5) scale(1 1.02)">Ref = 3.7</text>
<text class="ax" text-anchor="middle" transform="translate(1389.5 641) scale(1 1.0)">Serum uric acid level (mg/dL)</text>
<text class="ax" text-anchor="middle" xml:space="preserve" style="white-space:pre" transform="translate(922 306.3) rotate(-90) scale(1 0.98)">Ln(HR)  for all cause death</text>
<text class="lab" transform="translate(902.5 34) scale(1 1.04)">B</text>
</g>
<g>
<path class="band" d="M151.0 837.5L154.0 843.0L157.0 848.3L160.0 853.6L163.0 858.7L166.0 863.7L169.0 868.6L172.0 873.3L175.0 877.9L178.0 882.4L181.0 886.7L184.0 890.9L187.0 895.0L190.0 898.9L193.0 902.6L196.0 906.2L199.0 909.6L202.0 912.9L205.0 916.1L208.0 919.1L211.0 922.0L214.0 924.7L217.0 927.4L220.0 929.9L223.0 932.4L225.9 934.8L228.9 937.0L231.9 939.2L234.9 941.4L237.9 943.4L240.9 945.5L243.9 947.4L246.9 949.4L249.9 951.3L252.9 953.1L255.9 955.0L258.9 956.8L261.9 958.7L264.9 960.5L267.9 962.4L270.9 964.2L273.9 966.1L276.9 968.1L279.9 970.0L282.9 972.0L285.9 974.1L288.9 976.2L291.9 978.4L294.9 980.7L297.9 983.0L300.9 985.3L303.9 987.7L306.9 990.2L309.9 992.7L312.9 995.2L315.9 997.8L318.9 1000.4L321.9 1003.1L324.9 1005.8L327.9 1008.5L330.9 1011.4L333.9 1014.3L336.9 1017.3L339.9 1020.3L342.9 1023.5L345.9 1026.7L348.9 1029.9L351.9 1033.2L354.9 1036.5L357.9 1039.9L360.9 1043.3L363.9 1046.8L366.9 1050.3L369.9 1053.7L372.9 1057.2L375.9 1060.7L378.8 1064.2L381.8 1067.7L384.8 1071.2L387.8 1074.7L390.8 1078.1L393.8 1081.5L396.8 1084.9L399.8 1088.2L402.8 1091.5L405.8 1094.7L408.8 1097.9L411.8 1101.0L414.8 1104.0L417.8 1106.9L420.8 1109.8L423.8 1112.6L426.8 1115.2L429.8 1117.8L432.8 1120.2L435.8 1122.6L438.8 1124.8L441.8 1126.9L444.8 1128.8L447.8 1130.6L450.8 1132.3L453.8 1130.2L456.8 1128.0L459.8 1125.8L462.8 1123.4L465.8 1121.0L468.8 1118.6L471.8 1116.1L474.8 1113.5L477.8 1110.9L480.8 1108.2L483.8 1105.5L486.8 1102.7L489.8 1099.9L492.8 1097.0L495.8 1094.1L498.8 1091.1L501.8 1088.2L504.8 1085.1L507.8 1082.1L510.8 1079.0L513.8 1075.9L516.8 1072.7L519.8 1069.6L522.8 1066.4L525.8 1063.2L528.8 1060.0L531.8 1056.7L534.8 1053.5L537.8 1050.2L540.8 1047.0L543.8 1043.7L546.8 1040.5L549.8 1037.2L552.8 1033.9L555.8 1030.7L558.8 1027.4L561.8 1024.2L564.8 1020.9L567.8 1017.7L570.8 1014.5L573.8 1011.3L576.8 1008.2L579.8 1005.0L582.8 1001.9L585.8 998.8L588.8 995.8L591.8 992.7L594.8 989.7L597.8 986.7L600.8 983.8L603.8 980.9L606.8 978.0L609.8 975.2L612.8 972.4L615.8 969.6L618.8 966.9L621.8 964.2L624.8 961.6L627.8 959.1L630.8 956.6L633.8 954.1L636.8 951.7L639.8 949.3L642.8 947.1L645.8 944.8L648.8 942.7L651.8 940.5L654.8 938.5L657.8 936.4L660.8 934.4L663.8 932.4L666.8 930.5L669.8 928.5L672.8 926.6L675.8 924.7L678.8 922.7L681.8 920.8L684.8 918.8L687.8 916.9L690.8 914.9L693.8 912.9L696.8 910.8L699.8 908.7L702.8 906.6L705.8 904.4L708.8 902.2L711.8 899.9L714.8 897.5L717.8 895.1L720.8 892.6L723.8 890.1L726.8 887.5L729.8 884.8L732.8 882.0L735.8 879.2L738.8 876.3L741.8 873.2L744.8 870.1L747.8 867.0L750.8 863.7L753.8 860.4L756.8 857.0L759.8 853.5L762.8 850.0L765.8 846.2L768.8 842.3L771.8 838.3L774.8 834.0L777.8 829.6L780.8 824.9L783.8 819.9L786.8 814.6L789.8 809.1L792.8 803.4L795.8 797.5L798.8 791.4L801.8 785.2L804.8 778.8L807.8 772.3L810.8 765.8L813.8 759.2L816.8 752.6L819.8 746.0L819.8 1028.2L816.8 1027.9L813.8 1027.4L810.8 1027.0L807.8 1026.7L804.8 1026.6L801.8 1026.5L798.8 1026.6L795.8 1026.8L792.8 1027.1L789.8 1027.6L786.8 1028.1L783.8 1028.7L780.8 1029.4L777.8 1030.1L774.8 1031.0L771.8 1031.9L768.8 1032.9L765.8 1034.0L762.8 1035.1L759.8 1036.3L756.8 1037.6L753.8 1038.9L750.8 1040.3L747.8 1041.7L744.8 1043.1L741.8 1044.6L738.8 1046.1L735.8 1047.6L732.8 1049.2L729.8 1050.8L726.8 1052.3L723.8 1053.9L720.8 1055.5L717.8 1057.1L714.8 1058.7L711.8 1060.3L708.8 1061.9L705.8 1063.4L702.8 1065.0L699.8 1066.5L696.8 1068.0L693.8 1069.4L690.8 1070.8L687.8 1072.1L684.8 1073.5L681.8 1074.8L678.8 1076.0L675.8 1077.3L672.8 1078.5L669.8 1079.7L666.8 1081.0L663.8 1082.2L660.8 1083.4L657.8 1084.7L654.8 1085.9L651.8 1087.2L648.8 1088.5L645.8 1089.8L642.8 1091.2L639.8 1092.6L636.8 1094.0L633.8 1095.5L630.8 1097.0L627.8 1098.5L624.8 1100.0L621.8 1101.6L618.8 1103.2L615.8 1104.8L612.8 1106.4L609.8 1108.1L606.8 1109.7L603.8 1111.3L600.8 1113.0L597.8 1114.6L594.8 1116.2L591.8 1117.9L588.8 1119.5L585.8 1121.1L582.8 1122.7L579.8 1124.2L576.8 1125.8L573.8 1127.3L570.8 1128.8L567.8 1130.2L564.8 1131.7L561.8 1133.1L558.8 1134.4L555.8 1135.7L552.8 1137.0L549.8 1138.2L546.8 1139.4L543.8 1140.5L540.8 1141.5L537.8 1142.5L534.8 1143.5L531.8 1144.3L528.8 1145.1L525.8 1145.8L522.8 1146.5L519.8 1147.1L516.8 1147.6L513.8 1148.0L510.8 1148.3L507.8 1148.5L504.8 1148.7L501.8 1148.7L498.8 1148.7L495.8 1148.5L492.8 1148.3L489.8 1147.9L486.8 1147.5L483.8 1146.9L480.8 1146.2L477.8 1145.4L474.8 1144.4L471.8 1143.4L468.8 1142.2L465.8 1140.9L462.8 1139.5L459.8 1137.9L456.8 1136.2L453.8 1134.3L450.8 1132.3L447.8 1134.2L444.8 1135.9L441.8 1137.5L438.8 1138.9L435.8 1140.2L432.8 1141.3L429.8 1142.3L426.8 1143.1L423.8 1143.8L420.8 1144.4L417.8 1144.9L414.8 1145.3L411.8 1145.5L408.8 1145.7L405.8 1145.7L402.8 1145.6L399.8 1145.4L396.8 1145.2L393.8 1144.8L390.8 1144.4L387.8 1143.9L384.8 1143.3L381.8 1142.6L378.8 1141.8L375.9 1141.0L372.9 1140.2L369.9 1139.2L366.9 1138.3L363.9 1137.2L360.9 1136.2L357.9 1135.1L354.9 1133.9L351.9 1132.7L348.9 1131.5L345.9 1130.3L342.9 1129.0L339.9 1127.8L336.9 1126.5L333.9 1125.2L330.9 1123.9L327.9 1122.6L324.9 1121.3L321.9 1120.0L318.9 1118.7L315.9 1117.5L312.9 1116.3L309.9 1115.0L306.9 1113.9L303.9 1112.7L300.9 1111.6L297.9 1110.5L294.9 1109.5L291.9 1108.5L288.9 1107.5L285.9 1106.6L282.9 1105.8L279.9 1105.0L276.9 1104.3L273.9 1103.6L270.9 1103.0L267.9 1102.5L264.9 1102.1L261.9 1101.7L258.9 1101.4L255.9 1101.2L252.9 1101.1L249.9 1101.0L246.9 1101.1L243.9 1101.3L240.9 1101.5L237.9 1101.9L234.9 1102.3L231.9 1102.9L228.9 1103.6L225.9 1104.4L223.0 1105.3L220.0 1106.4L217.0 1107.6L214.0 1108.9L211.0 1110.3L208.0 1111.9L205.0 1113.6L202.0 1115.5L199.0 1117.5L196.0 1119.6L193.0 1121.9L190.0 1124.4L187.0 1127.0L184.0 1129.8L181.0 1132.7L178.0 1135.8L175.0 1139.1L172.0 1142.6L169.0 1146.2L166.0 1150.1L163.0 1154.1L160.0 1158.3L157.0 1162.7L154.0 1167.3L151.0 1172.0Z"/>
<line class="zero" x1="108.5" y1="1132.3" x2="842" y2="1132.3"/>
<path class="ci" d="M151.0 837.5L154.0 843.0L157.0 848.3L160.0 853.6L163.0 858.7L166.0 863.7L169.0 868.6L172.0 873.3L175.0 877.9L178.0 882.4L181.0 886.7L184.0 890.9L187.0 895.0L190.0 898.9L193.0 902.6L196.0 906.2L199.0 909.6L202.0 912.9L205.0 916.1L208.0 919.1L211.0 922.0L214.0 924.7L217.0 927.4L220.0 929.9L223.0 932.4L225.9 934.8L228.9 937.0L231.9 939.2L234.9 941.4L237.9 943.4L240.9 945.5L243.9 947.4L246.9 949.4L249.9 951.3L252.9 953.1L255.9 955.0L258.9 956.8L261.9 958.7L264.9 960.5L267.9 962.4L270.9 964.2L273.9 966.1L276.9 968.1L279.9 970.0L282.9 972.0L285.9 974.1L288.9 976.2L291.9 978.4L294.9 980.7L297.9 983.0L300.9 985.3L303.9 987.7L306.9 990.2L309.9 992.7L312.9 995.2L315.9 997.8L318.9 1000.4L321.9 1003.1L324.9 1005.8L327.9 1008.5L330.9 1011.4L333.9 1014.3L336.9 1017.3L339.9 1020.3L342.9 1023.5L345.9 1026.7L348.9 1029.9L351.9 1033.2L354.9 1036.5L357.9 1039.9L360.9 1043.3L363.9 1046.8L366.9 1050.3L369.9 1053.7L372.9 1057.2L375.9 1060.7L378.8 1064.2L381.8 1067.7L384.8 1071.2L387.8 1074.7L390.8 1078.1L393.8 1081.5L396.8 1084.9L399.8 1088.2L402.8 1091.5L405.8 1094.7L408.8 1097.9L411.8 1101.0L414.8 1104.0L417.8 1106.9L420.8 1109.8L423.8 1112.6L426.8 1115.2L429.8 1117.8L432.8 1120.2L435.8 1122.6L438.8 1124.8L441.8 1126.9L444.8 1128.8L447.8 1130.6L450.8 1132.3L453.8 1130.2L456.8 1128.0L459.8 1125.8L462.8 1123.4L465.8 1121.0L468.8 1118.6L471.8 1116.1L474.8 1113.5L477.8 1110.9L480.8 1108.2L483.8 1105.5L486.8 1102.7L489.8 1099.9L492.8 1097.0L495.8 1094.1L498.8 1091.1L501.8 1088.2L504.8 1085.1L507.8 1082.1L510.8 1079.0L513.8 1075.9L516.8 1072.7L519.8 1069.6L522.8 1066.4L525.8 1063.2L528.8 1060.0L531.8 1056.7L534.8 1053.5L537.8 1050.2L540.8 1047.0L543.8 1043.7L546.8 1040.5L549.8 1037.2L552.8 1033.9L555.8 1030.7L558.8 1027.4L561.8 1024.2L564.8 1020.9L567.8 1017.7L570.8 1014.5L573.8 1011.3L576.8 1008.2L579.8 1005.0L582.8 1001.9L585.8 998.8L588.8 995.8L591.8 992.7L594.8 989.7L597.8 986.7L600.8 983.8L603.8 980.9L606.8 978.0L609.8 975.2L612.8 972.4L615.8 969.6L618.8 966.9L621.8 964.2L624.8 961.6L627.8 959.1L630.8 956.6L633.8 954.1L636.8 951.7L639.8 949.3L642.8 947.1L645.8 944.8L648.8 942.7L651.8 940.5L654.8 938.5L657.8 936.4L660.8 934.4L663.8 932.4L666.8 930.5L669.8 928.5L672.8 926.6L675.8 924.7L678.8 922.7L681.8 920.8L684.8 918.8L687.8 916.9L690.8 914.9L693.8 912.9L696.8 910.8L699.8 908.7L702.8 906.6L705.8 904.4L708.8 902.2L711.8 899.9L714.8 897.5L717.8 895.1L720.8 892.6L723.8 890.1L726.8 887.5L729.8 884.8L732.8 882.0L735.8 879.2L738.8 876.3L741.8 873.2L744.8 870.1L747.8 867.0L750.8 863.7L753.8 860.4L756.8 857.0L759.8 853.5L762.8 850.0L765.8 846.2L768.8 842.3L771.8 838.3L774.8 834.0L777.8 829.6L780.8 824.9L783.8 819.9L786.8 814.6L789.8 809.1L792.8 803.4L795.8 797.5L798.8 791.4L801.8 785.2L804.8 778.8L807.8 772.3L810.8 765.8L813.8 759.2L816.8 752.6L819.8 746.0"/>
<path class="ci" d="M151.0 1172.0L154.0 1167.3L157.0 1162.7L160.0 1158.3L163.0 1154.1L166.0 1150.1L169.0 1146.2L172.0 1142.6L175.0 1139.1L178.0 1135.8L181.0 1132.7L184.0 1129.8L187.0 1127.0L190.0 1124.4L193.0 1121.9L196.0 1119.6L199.0 1117.5L202.0 1115.5L205.0 1113.6L208.0 1111.9L211.0 1110.3L214.0 1108.9L217.0 1107.6L220.0 1106.4L223.0 1105.3L225.9 1104.4L228.9 1103.6L231.9 1102.9L234.9 1102.3L237.9 1101.9L240.9 1101.5L243.9 1101.3L246.9 1101.1L249.9 1101.0L252.9 1101.1L255.9 1101.2L258.9 1101.4L261.9 1101.7L264.9 1102.1L267.9 1102.5L270.9 1103.0L273.9 1103.6L276.9 1104.3L279.9 1105.0L282.9 1105.8L285.9 1106.6L288.9 1107.5L291.9 1108.5L294.9 1109.5L297.9 1110.5L300.9 1111.6L303.9 1112.7L306.9 1113.9L309.9 1115.0L312.9 1116.3L315.9 1117.5L318.9 1118.7L321.9 1120.0L324.9 1121.3L327.9 1122.6L330.9 1123.9L333.9 1125.2L336.9 1126.5L339.9 1127.8L342.9 1129.0L345.9 1130.3L348.9 1131.5L351.9 1132.7L354.9 1133.9L357.9 1135.1L360.9 1136.2L363.9 1137.2L366.9 1138.3L369.9 1139.2L372.9 1140.2L375.9 1141.0L378.8 1141.8L381.8 1142.6L384.8 1143.3L387.8 1143.9L390.8 1144.4L393.8 1144.8L396.8 1145.2L399.8 1145.4L402.8 1145.6L405.8 1145.7L408.8 1145.7L411.8 1145.5L414.8 1145.3L417.8 1144.9L420.8 1144.4L423.8 1143.8L426.8 1143.1L429.8 1142.3L432.8 1141.3L435.8 1140.2L438.8 1138.9L441.8 1137.5L444.8 1135.9L447.8 1134.2L450.8 1132.3L453.8 1134.3L456.8 1136.2L459.8 1137.9L462.8 1139.5L465.8 1140.9L468.8 1142.2L471.8 1143.4L474.8 1144.4L477.8 1145.4L480.8 1146.2L483.8 1146.9L486.8 1147.5L489.8 1147.9L492.8 1148.3L495.8 1148.5L498.8 1148.7L501.8 1148.7L504.8 1148.7L507.8 1148.5L510.8 1148.3L513.8 1148.0L516.8 1147.6L519.8 1147.1L522.8 1146.5L525.8 1145.8L528.8 1145.1L531.8 1144.3L534.8 1143.5L537.8 1142.5L540.8 1141.5L543.8 1140.5L546.8 1139.4L549.8 1138.2L552.8 1137.0L555.8 1135.7L558.8 1134.4L561.8 1133.1L564.8 1131.7L567.8 1130.2L570.8 1128.8L573.8 1127.3L576.8 1125.8L579.8 1124.2L582.8 1122.7L585.8 1121.1L588.8 1119.5L591.8 1117.9L594.8 1116.2L597.8 1114.6L600.8 1113.0L603.8 1111.3L606.8 1109.7L609.8 1108.1L612.8 1106.4L615.8 1104.8L618.8 1103.2L621.8 1101.6L624.8 1100.0L627.8 1098.5L630.8 1097.0L633.8 1095.5L636.8 1094.0L639.8 1092.6L642.8 1091.2L645.8 1089.8L648.8 1088.5L651.8 1087.2L654.8 1085.9L657.8 1084.7L660.8 1083.4L663.8 1082.2L666.8 1081.0L669.8 1079.7L672.8 1078.5L675.8 1077.3L678.8 1076.0L681.8 1074.8L684.8 1073.5L687.8 1072.1L690.8 1070.8L693.8 1069.4L696.8 1068.0L699.8 1066.5L702.8 1065.0L705.8 1063.4L708.8 1061.9L711.8 1060.3L714.8 1058.7L717.8 1057.1L720.8 1055.5L723.8 1053.9L726.8 1052.3L729.8 1050.8L732.8 1049.2L735.8 1047.6L738.8 1046.1L741.8 1044.6L744.8 1043.1L747.8 1041.7L750.8 1040.3L753.8 1038.9L756.8 1037.6L759.8 1036.3L762.8 1035.1L765.8 1034.0L768.8 1032.9L771.8 1031.9L774.8 1031.0L777.8 1030.1L780.8 1029.4L783.8 1028.7L786.8 1028.1L789.8 1027.6L792.8 1027.1L795.8 1026.8L798.8 1026.6L801.8 1026.5L804.8 1026.6L807.8 1026.7L810.8 1027.0L813.8 1027.4L816.8 1027.9L819.8 1028.5"/>
<path class="mean" d="M151.0 1005.4L154.0 1005.9L157.0 1006.4L160.0 1006.9L163.0 1007.4L166.0 1007.9L169.0 1008.5L172.0 1009.0L175.0 1009.5L178.0 1010.0L181.0 1010.6L184.0 1011.1L187.0 1011.6L190.0 1012.2L193.0 1012.7L196.0 1013.2L199.0 1013.8L202.0 1014.3L205.0 1014.9L208.0 1015.4L211.0 1016.0L214.0 1016.6L217.0 1017.2L220.0 1017.8L223.0 1018.4L226.0 1019.1L229.0 1019.8L232.0 1020.5L235.0 1021.2L238.0 1022.0L241.0 1022.8L244.0 1023.7L247.0 1024.6L250.0 1025.5L253.0 1026.5L256.0 1027.6L259.0 1028.7L262.0 1029.8L265.0 1031.0L268.0 1032.2L271.0 1033.5L274.0 1034.8L277.0 1036.2L280.0 1037.6L283.0 1039.0L285.9 1040.5L288.9 1042.1L291.9 1043.6L294.9 1045.2L297.9 1046.9L300.9 1048.6L303.9 1050.3L306.9 1052.1L309.9 1053.9L312.9 1055.7L315.9 1057.6L318.9 1059.5L321.9 1061.4L324.9 1063.4L327.9 1065.4L330.9 1067.4L333.9 1069.5L336.9 1071.5L339.9 1073.7L342.9 1075.8L345.9 1078.0L348.9 1080.2L351.9 1082.4L354.9 1084.6L357.9 1086.9L360.9 1089.1L363.9 1091.4L366.9 1093.6L369.9 1095.8L372.9 1098.0L375.9 1100.2L378.9 1102.4L381.9 1104.5L384.9 1106.6L387.9 1108.6L390.9 1110.6L393.9 1112.5L396.9 1114.4L399.9 1116.2L402.9 1117.9L405.9 1119.6L408.9 1121.1L411.9 1122.6L414.9 1124.0L417.9 1125.3L420.9 1126.4L423.9 1127.5L426.9 1128.5L429.9 1129.3L432.9 1130.1L435.9 1130.7L438.9 1131.2L441.9 1131.7L444.9 1132.0L447.9 1132.2L450.9 1132.3L453.9 1132.3L456.9 1132.2L459.9 1132.0L462.9 1131.7L465.9 1131.3L468.9 1130.8L471.9 1130.2L474.9 1129.5L477.9 1128.6L480.9 1127.7L483.9 1126.7L486.9 1125.6L489.9 1124.4L492.9 1123.2L495.9 1121.8L498.9 1120.4L501.9 1118.9L504.9 1117.3L507.9 1115.6L510.9 1113.9L513.9 1112.1L516.9 1110.3L519.9 1108.4L522.9 1106.5L525.9 1104.5L528.9 1102.4L531.9 1100.3L534.9 1098.2L537.9 1096.0L540.9 1093.8L543.9 1091.6L546.9 1089.3L549.9 1087.0L552.8 1084.7L555.8 1082.4L558.8 1080.1L561.8 1077.7L564.8 1075.4L567.8 1073.0L570.8 1070.7L573.8 1068.3L576.8 1065.9L579.8 1063.6L582.8 1061.2L585.8 1058.9L588.8 1056.6L591.8 1054.3L594.8 1052.0L597.8 1049.7L600.8 1047.5L603.8 1045.3L606.8 1043.1L609.8 1040.9L612.8 1038.8L615.8 1036.7L618.8 1034.7L621.8 1032.7L624.8 1030.8L627.8 1028.8L630.8 1026.9L633.8 1025.1L636.8 1023.3L639.8 1021.5L642.8 1019.7L645.8 1017.9L648.8 1016.2L651.8 1014.5L654.8 1012.8L657.8 1011.1L660.8 1009.4L663.8 1007.8L666.8 1006.1L669.8 1004.4L672.8 1002.8L675.8 1001.1L678.8 999.5L681.8 997.8L684.8 996.1L687.8 994.5L690.8 992.8L693.8 991.1L696.8 989.3L699.8 987.6L702.8 985.8L705.8 984.0L708.8 982.1L711.8 980.3L714.8 978.4L717.8 976.4L720.8 974.4L723.8 972.4L726.8 970.3L729.8 968.1L732.8 965.9L735.8 963.7L738.8 961.4L741.8 959.1L744.8 956.8L747.8 954.4L750.8 951.9L753.8 949.4L756.8 946.9L759.8 944.4L762.8 941.8L765.8 939.1L768.8 936.5L771.8 933.8L774.8 931.0L777.8 928.3L780.8 925.5L783.8 922.7L786.8 919.8L789.8 917.0L792.8 914.2L795.8 911.3L798.8 908.4L801.8 905.6L804.8 902.7L807.8 899.8L810.8 897.0L813.8 894.2L816.8 891.3L819.8 888.6"/>
<path class="arr" d="M450.8 937.5L450.8 1173.75M444.40000000000003 1163.15L450.8 1173.75L457.2 1163.15"/>
<rect class="box" x="122.75" y="727.3" width="723.75" height="464.70000000000005"/>
<rect x="149.75" y="725.8" width="1.5" height="3" fill="#fff"/>
<rect x="149.9" y="1190.5" width="1.2" height="3" fill="#fff" opacity="0.8"/>
<rect x="819.75" y="725.8" width="1.5" height="3" fill="#fff"/>
<rect x="819.9" y="1190.5" width="1.2" height="3" fill="#fff" opacity="0.8"/>
<path class="tick" d="M108.5 746.8H122.75M108.5 823.3H122.75M108.5 900.9H122.75M108.5 978.1H122.75M108.5 1056H122.75M108.5 1132.5H122.75M150 1192V1206M300.5 1192V1206M450.5 1192V1206M677 1192V1206M820.5 1192V1206"/>
<text class="tk" text-anchor="end" transform="translate(84 755) scale(1 1.04)">2.5</text>
<text class="tk" text-anchor="end" transform="translate(80 830.5) scale(1 1.04)">2</text>
<text class="tk" text-anchor="end" transform="translate(84 905.7) scale(1 1.04)">1.5</text>
<text class="tk" text-anchor="end" transform="translate(80 982.7) scale(1 1.04)">1</text>
<text class="tk" text-anchor="end" transform="translate(84 1061) scale(1 1.04)">0.5</text>
<text class="tk" text-anchor="end" transform="translate(80 1137) scale(1 1.04)">0</text>
<text class="tk" text-anchor="middle" transform="translate(151 1235.1) scale(1 1.04)">2</text>
<text class="tk" text-anchor="middle" transform="translate(300.5 1235.1) scale(1 1.04)">4</text>
<text class="tk" text-anchor="middle" transform="translate(451.5 1235.1) scale(1 1.04)">6</text>
<text class="tk" text-anchor="middle" transform="translate(678.5 1235.1) scale(1 1.04)">9</text>
<text class="tk" text-anchor="middle" transform="translate(819.5 1235.1) scale(1 1.04)">11</text>
<text class="tt" text-anchor="middle" transform="translate(475.8 795) scale(1 1.02)">Male</text>
<text class="rf" text-anchor="middle" transform="translate(438.5 913.2) scale(1 1.02)">Ref = 6</text>
<text class="ax" text-anchor="middle" transform="translate(481.3 1286.3) scale(1 1.0)">Serum uric acid level (mg/dL)</text>
<text class="ax" text-anchor="middle" xml:space="preserve" style="white-space:pre" transform="translate(25.8 979.2) rotate(-90) scale(1 1.02)">Ln(HR)  for MACCE</text>
<text class="lab" transform="translate(10.2 698.6) scale(1 1.04)">C</text>
</g>
<g>
<path class="band" d="M1044.5 856.5L1047.5 861.8L1050.5 867.1L1053.5 872.3L1056.5 877.4L1059.5 882.5L1062.5 887.5L1065.5 892.4L1068.5 897.3L1071.5 902.1L1074.5 906.8L1077.5 911.5L1080.5 916.1L1083.5 920.6L1086.5 925.1L1089.5 929.5L1092.5 933.8L1095.5 938.1L1098.5 942.3L1101.5 946.5L1104.5 950.5L1107.5 954.5L1110.5 958.5L1113.5 962.3L1116.5 966.1L1119.5 969.8L1122.5 973.4L1125.5 977.0L1128.5 980.5L1131.5 983.9L1134.5 987.3L1137.5 990.5L1140.5 993.7L1143.5 996.9L1146.5 999.9L1149.5 1002.9L1152.5 1005.8L1155.5 1008.6L1158.5 1011.3L1161.5 1014.0L1164.5 1016.6L1167.5 1019.1L1170.5 1021.5L1173.5 1018.4L1176.5 1015.6L1179.5 1012.9L1182.5 1010.4L1185.5 1008.0L1188.5 1005.8L1191.4 1003.6L1194.4 1001.6L1197.4 999.5L1200.4 997.5L1203.4 995.6L1206.4 993.6L1209.4 991.6L1212.4 989.5L1215.4 987.4L1218.4 985.1L1221.4 982.8L1224.4 980.3L1227.3 977.7L1230.3 974.9L1233.3 971.9L1236.3 968.8L1239.3 965.6L1242.3 962.5L1245.3 959.5L1248.3 956.8L1251.3 954.4L1254.3 952.3L1257.3 950.3L1260.3 948.6L1263.2 946.9L1266.2 945.3L1269.2 943.6L1272.2 941.8L1275.2 939.9L1278.2 937.7L1281.2 935.5L1284.2 933.2L1287.2 930.8L1290.2 928.4L1293.2 926.0L1296.2 923.7L1299.1 921.5L1302.1 919.4L1305.1 917.5L1308.1 915.6L1311.1 913.9L1314.1 912.3L1317.1 910.9L1320.1 909.5L1323.1 908.2L1326.1 906.9L1329.1 905.5L1332.1 904.0L1335.1 902.4L1338.0 900.7L1341.0 899.0L1344.0 897.3L1347.0 895.6L1350.0 894.0L1353.0 892.5L1356.0 891.1L1359.0 889.8L1362.0 888.6L1365.0 887.5L1368.0 886.5L1371.0 885.5L1373.9 884.6L1376.9 883.8L1379.9 883.1L1382.9 882.4L1385.9 881.8L1388.9 881.2L1391.9 880.7L1394.9 880.3L1397.9 879.9L1400.9 879.6L1403.9 879.3L1406.9 879.0L1409.8 878.8L1412.8 878.6L1415.8 878.5L1418.8 878.3L1421.8 878.2L1424.8 878.2L1427.8 878.1L1430.8 878.0L1433.8 878.0L1436.8 878.0L1439.8 877.9L1442.8 877.9L1445.8 877.9L1448.7 877.9L1451.7 877.8L1454.7 877.8L1457.7 877.7L1460.7 877.6L1463.7 877.5L1466.7 877.3L1469.7 877.2L1472.7 877.0L1475.7 876.7L1478.7 876.5L1481.7 876.2L1484.6 875.9L1487.6 875.6L1490.6 875.2L1493.6 874.8L1496.6 874.4L1499.6 873.9L1502.6 873.4L1505.6 872.9L1508.6 872.3L1511.6 871.8L1514.6 871.1L1517.6 870.5L1520.5 869.8L1523.5 869.1L1526.5 868.4L1529.5 867.6L1532.5 866.8L1535.5 866.0L1538.5 865.2L1541.5 864.3L1544.5 863.4L1547.5 862.4L1550.5 861.4L1553.5 860.4L1556.4 859.4L1559.4 858.3L1562.4 857.2L1565.4 856.1L1568.4 855.0L1571.4 853.8L1574.4 852.6L1577.4 851.4L1580.4 850.2L1583.4 848.9L1586.4 847.7L1589.4 846.4L1592.4 845.2L1595.3 843.9L1598.3 842.6L1601.3 841.4L1604.3 840.1L1607.3 838.8L1610.3 837.5L1613.3 836.2L1616.3 834.9L1619.3 833.5L1622.3 832.1L1625.3 830.7L1628.3 829.2L1631.2 827.6L1634.2 826.0L1637.2 824.2L1640.2 822.4L1643.2 820.5L1646.2 818.5L1649.2 816.5L1652.2 814.4L1655.2 812.1L1658.2 809.9L1661.2 807.5L1664.2 805.1L1667.1 802.6L1670.1 800.1L1673.1 797.5L1676.1 794.8L1679.1 792.0L1682.1 789.0L1685.1 786.0L1688.1 782.8L1691.1 779.4L1694.1 775.8L1697.1 772.1L1700.1 768.1L1703.0 763.9L1706.0 759.5L1709.0 754.8L1712.0 750.2L1715.0 745.9L1718.0 742.1L1721.0 739.0L1721.0 1059.2L1718.0 1055.0L1715.0 1050.7L1712.0 1046.5L1709.0 1042.6L1706.0 1038.9L1703.0 1035.3L1700.1 1032.0L1697.1 1028.8L1694.1 1025.8L1691.1 1022.9L1688.1 1020.3L1685.1 1017.8L1682.1 1015.5L1679.1 1013.3L1676.1 1011.3L1673.1 1009.4L1670.1 1007.7L1667.1 1006.1L1664.2 1004.7L1661.2 1003.5L1658.2 1002.3L1655.2 1001.3L1652.2 1000.4L1649.2 999.7L1646.2 999.1L1643.2 998.5L1640.2 998.1L1637.2 997.9L1634.2 997.7L1631.2 997.6L1628.3 997.7L1625.3 997.8L1622.3 998.0L1619.3 998.3L1616.3 998.7L1613.3 999.2L1610.3 999.8L1607.3 1000.4L1604.3 1001.1L1601.3 1001.9L1598.3 1002.7L1595.3 1003.5L1592.4 1004.4L1589.4 1005.3L1586.4 1006.3L1583.4 1007.2L1580.4 1008.2L1577.4 1009.2L1574.4 1010.1L1571.4 1011.1L1568.4 1012.0L1565.4 1012.9L1562.4 1013.8L1559.4 1014.7L1556.4 1015.6L1553.5 1016.4L1550.5 1017.2L1547.5 1018.0L1544.5 1018.8L1541.5 1019.5L1538.5 1020.2L1535.5 1020.9L1532.5 1021.5L1529.5 1022.1L1526.5 1022.7L1523.5 1023.2L1520.5 1023.7L1517.6 1024.1L1514.6 1024.5L1511.6 1024.8L1508.6 1025.1L1505.6 1025.4L1502.6 1025.6L1499.6 1025.7L1496.6 1025.8L1493.6 1025.9L1490.6 1025.9L1487.6 1025.9L1484.6 1025.8L1481.7 1025.7L1478.7 1025.5L1475.7 1025.3L1472.7 1025.1L1469.7 1024.8L1466.7 1024.4L1463.7 1024.1L1460.7 1023.7L1457.7 1023.3L1454.7 1022.9L1451.7 1022.6L1448.7 1022.2L1445.8 1021.8L1442.8 1021.4L1439.8 1021.0L1436.8 1020.7L1433.8 1020.4L1430.8 1020.1L1427.8 1019.9L1424.8 1019.7L1421.8 1019.5L1418.8 1019.4L1415.8 1019.4L1412.8 1019.4L1409.8 1019.5L1406.9 1019.7L1403.9 1019.9L1400.9 1020.2L1397.9 1020.6L1394.9 1021.0L1391.9 1021.6L1388.9 1022.1L1385.9 1022.7L1382.9 1023.4L1379.9 1024.1L1376.9 1024.9L1373.9 1025.7L1371.0 1026.6L1368.0 1027.5L1365.0 1028.4L1362.0 1029.4L1359.0 1030.4L1356.0 1031.4L1353.0 1032.5L1350.0 1033.5L1347.0 1034.6L1344.0 1035.7L1341.0 1036.9L1338.0 1038.0L1335.1 1039.1L1332.1 1040.3L1329.1 1041.4L1326.1 1042.5L1323.1 1043.7L1320.1 1044.8L1317.1 1045.9L1314.1 1047.0L1311.1 1048.1L1308.1 1049.2L1305.1 1050.2L1302.1 1051.3L1299.1 1052.3L1296.2 1053.2L1293.2 1054.2L1290.2 1055.1L1287.2 1055.9L1284.2 1056.7L1281.2 1057.5L1278.2 1058.2L1275.2 1058.9L1272.2 1059.5L1269.2 1060.0L1266.2 1060.5L1263.2 1060.9L1260.3 1061.2L1257.3 1061.5L1254.3 1061.6L1251.3 1061.7L1248.3 1061.6L1245.3 1061.5L1242.3 1061.2L1239.3 1060.9L1236.3 1060.4L1233.3 1059.8L1230.3 1059.1L1227.3 1058.2L1224.4 1057.2L1221.4 1056.1L1218.4 1054.8L1215.4 1053.5L1212.4 1052.0L1209.4 1050.3L1206.4 1048.6L1203.4 1046.8L1200.4 1044.8L1197.4 1042.8L1194.4 1040.7L1191.4 1038.5L1188.5 1036.2L1185.5 1033.9L1182.5 1031.5L1179.5 1029.0L1176.5 1026.6L1173.5 1024.0L1170.5 1021.5L1167.5 1024.6L1164.5 1027.6L1161.5 1030.7L1158.5 1033.7L1155.5 1036.8L1152.5 1039.8L1149.5 1042.9L1146.5 1045.9L1143.5 1049.0L1140.5 1052.1L1137.5 1055.1L1134.5 1058.3L1131.5 1061.4L1128.5 1064.5L1125.5 1067.7L1122.5 1070.9L1119.5 1074.2L1116.5 1077.5L1113.5 1080.8L1110.5 1084.1L1107.5 1087.5L1104.5 1091.0L1101.5 1094.5L1098.5 1098.0L1095.5 1101.6L1092.5 1105.3L1089.5 1109.0L1086.5 1112.7L1083.5 1116.6L1080.5 1120.5L1077.5 1124.5L1074.5 1128.5L1071.5 1132.7L1068.5 1136.9L1065.5 1141.2L1062.5 1145.5L1059.5 1150.0L1056.5 1154.5L1053.5 1159.2L1050.5 1163.9L1047.5 1168.8L1044.5 1173.7Z"/>
<line class="zero" x1="1000.75" y1="1021.5" x2="1744" y2="1021.5"/>
<path class="ci" d="M1044.5 856.5L1047.5 861.8L1050.5 867.1L1053.5 872.3L1056.5 877.4L1059.5 882.5L1062.5 887.5L1065.5 892.4L1068.5 897.3L1071.5 902.1L1074.5 906.8L1077.5 911.5L1080.5 916.1L1083.5 920.6L1086.5 925.1L1089.5 929.5L1092.5 933.8L1095.5 938.1L1098.5 942.3L1101.5 946.5L1104.5 950.5L1107.5 954.5L1110.5 958.5L1113.5 962.3L1116.5 966.1L1119.5 969.8L1122.5 973.4L1125.5 977.0L1128.5 980.5L1131.5 983.9L1134.5 987.3L1137.5 990.5L1140.5 993.7L1143.5 996.9L1146.5 999.9L1149.5 1002.9L1152.5 1005.8L1155.5 1008.6L1158.5 1011.3L1161.5 1014.0L1164.5 1016.6L1167.5 1019.1L1170.5 1021.5L1173.5 1018.4L1176.5 1015.6L1179.5 1012.9L1182.5 1010.4L1185.5 1008.0L1188.5 1005.8L1191.4 1003.6L1194.4 1001.6L1197.4 999.5L1200.4 997.5L1203.4 995.6L1206.4 993.6L1209.4 991.6L1212.4 989.5L1215.4 987.4L1218.4 985.1L1221.4 982.8L1224.4 980.3L1227.3 977.7L1230.3 974.9L1233.3 971.9L1236.3 968.8L1239.3 965.6L1242.3 962.5L1245.3 959.5L1248.3 956.8L1251.3 954.4L1254.3 952.3L1257.3 950.3L1260.3 948.6L1263.2 946.9L1266.2 945.3L1269.2 943.6L1272.2 941.8L1275.2 939.9L1278.2 937.7L1281.2 935.5L1284.2 933.2L1287.2 930.8L1290.2 928.4L1293.2 926.0L1296.2 923.7L1299.1 921.5L1302.1 919.4L1305.1 917.5L1308.1 915.6L1311.1 913.9L1314.1 912.3L1317.1 910.9L1320.1 909.5L1323.1 908.2L1326.1 906.9L1329.1 905.5L1332.1 904.0L1335.1 902.4L1338.0 900.7L1341.0 899.0L1344.0 897.3L1347.0 895.6L1350.0 894.0L1353.0 892.5L1356.0 891.1L1359.0 889.8L1362.0 888.6L1365.0 887.5L1368.0 886.5L1371.0 885.5L1373.9 884.6L1376.9 883.8L1379.9 883.1L1382.9 882.4L1385.9 881.8L1388.9 881.2L1391.9 880.7L1394.9 880.3L1397.9 879.9L1400.9 879.6L1403.9 879.3L1406.9 879.0L1409.8 878.8L1412.8 878.6L1415.8 878.5L1418.8 878.3L1421.8 878.2L1424.8 878.2L1427.8 878.1L1430.8 878.0L1433.8 878.0L1436.8 878.0L1439.8 877.9L1442.8 877.9L1445.8 877.9L1448.7 877.9L1451.7 877.8L1454.7 877.8L1457.7 877.7L1460.7 877.6L1463.7 877.5L1466.7 877.3L1469.7 877.2L1472.7 877.0L1475.7 876.7L1478.7 876.5L1481.7 876.2L1484.6 875.9L1487.6 875.6L1490.6 875.2L1493.6 874.8L1496.6 874.4L1499.6 873.9L1502.6 873.4L1505.6 872.9L1508.6 872.3L1511.6 871.8L1514.6 871.1L1517.6 870.5L1520.5 869.8L1523.5 869.1L1526.5 868.4L1529.5 867.6L1532.5 866.8L1535.5 866.0L1538.5 865.2L1541.5 864.3L1544.5 863.4L1547.5 862.4L1550.5 861.4L1553.5 860.4L1556.4 859.4L1559.4 858.3L1562.4 857.2L1565.4 856.1L1568.4 855.0L1571.4 853.8L1574.4 852.6L1577.4 851.4L1580.4 850.2L1583.4 848.9L1586.4 847.7L1589.4 846.4L1592.4 845.2L1595.3 843.9L1598.3 842.6L1601.3 841.4L1604.3 840.1L1607.3 838.8L1610.3 837.5L1613.3 836.2L1616.3 834.9L1619.3 833.5L1622.3 832.1L1625.3 830.7L1628.3 829.2L1631.2 827.6L1634.2 826.0L1637.2 824.2L1640.2 822.4L1643.2 820.5L1646.2 818.5L1649.2 816.5L1652.2 814.4L1655.2 812.1L1658.2 809.9L1661.2 807.5L1664.2 805.1L1667.1 802.6L1670.1 800.1L1673.1 797.5L1676.1 794.8L1679.1 792.0L1682.1 789.0L1685.1 786.0L1688.1 782.8L1691.1 779.4L1694.1 775.8L1697.1 772.1L1700.1 768.1L1703.0 763.9L1706.0 759.5L1709.0 754.8L1712.0 750.2L1715.0 745.9L1718.0 742.1L1721.0 739.0"/>
<path class="ci" d="M1044.5 1173.7L1047.5 1168.8L1050.5 1163.9L1053.5 1159.2L1056.5 1154.5L1059.5 1150.0L1062.5 1145.5L1065.5 1141.2L1068.5 1136.9L1071.5 1132.7L1074.5 1128.5L1077.5 1124.5L1080.5 1120.5L1083.5 1116.6L1086.5 1112.7L1089.5 1109.0L1092.5 1105.3L1095.5 1101.6L1098.5 1098.0L1101.5 1094.5L1104.5 1091.0L1107.5 1087.5L1110.5 1084.1L1113.5 1080.8L1116.5 1077.5L1119.5 1074.2L1122.5 1070.9L1125.5 1067.7L1128.5 1064.5L1131.5 1061.4L1134.5 1058.3L1137.5 1055.1L1140.5 1052.1L1143.5 1049.0L1146.5 1045.9L1149.5 1042.9L1152.5 1039.8L1155.5 1036.8L1158.5 1033.7L1161.5 1030.7L1164.5 1027.6L1167.5 1024.6L1170.5 1021.5L1173.5 1024.0L1176.5 1026.6L1179.5 1029.0L1182.5 1031.5L1185.5 1033.9L1188.5 1036.2L1191.4 1038.5L1194.4 1040.7L1197.4 1042.8L1200.4 1044.8L1203.4 1046.8L1206.4 1048.6L1209.4 1050.3L1212.4 1052.0L1215.4 1053.5L1218.4 1054.8L1221.4 1056.1L1224.4 1057.2L1227.3 1058.2L1230.3 1059.1L1233.3 1059.8L1236.3 1060.4L1239.3 1060.9L1242.3 1061.2L1245.3 1061.5L1248.3 1061.6L1251.3 1061.7L1254.3 1061.6L1257.3 1061.5L1260.3 1061.2L1263.2 1060.9L1266.2 1060.5L1269.2 1060.0L1272.2 1059.5L1275.2 1058.9L1278.2 1058.2L1281.2 1057.5L1284.2 1056.7L1287.2 1055.9L1290.2 1055.1L1293.2 1054.2L1296.2 1053.2L1299.1 1052.3L1302.1 1051.3L1305.1 1050.2L1308.1 1049.2L1311.1 1048.1L1314.1 1047.0L1317.1 1045.9L1320.1 1044.8L1323.1 1043.7L1326.1 1042.5L1329.1 1041.4L1332.1 1040.3L1335.1 1039.1L1338.0 1038.0L1341.0 1036.9L1344.0 1035.7L1347.0 1034.6L1350.0 1033.5L1353.0 1032.5L1356.0 1031.4L1359.0 1030.4L1362.0 1029.4L1365.0 1028.4L1368.0 1027.5L1371.0 1026.6L1373.9 1025.7L1376.9 1024.9L1379.9 1024.1L1382.9 1023.4L1385.9 1022.7L1388.9 1022.1L1391.9 1021.6L1394.9 1021.0L1397.9 1020.6L1400.9 1020.2L1403.9 1019.9L1406.9 1019.7L1409.8 1019.5L1412.8 1019.4L1415.8 1019.4L1418.8 1019.4L1421.8 1019.5L1424.8 1019.7L1427.8 1019.9L1430.8 1020.1L1433.8 1020.4L1436.8 1020.7L1439.8 1021.0L1442.8 1021.4L1445.8 1021.8L1448.7 1022.2L1451.7 1022.6L1454.7 1022.9L1457.7 1023.3L1460.7 1023.7L1463.7 1024.1L1466.7 1024.4L1469.7 1024.8L1472.7 1025.1L1475.7 1025.3L1478.7 1025.5L1481.7 1025.7L1484.6 1025.8L1487.6 1025.9L1490.6 1025.9L1493.6 1025.9L1496.6 1025.8L1499.6 1025.7L1502.6 1025.6L1505.6 1025.4L1508.6 1025.1L1511.6 1024.8L1514.6 1024.5L1517.6 1024.1L1520.5 1023.7L1523.5 1023.2L1526.5 1022.7L1529.5 1022.1L1532.5 1021.5L1535.5 1020.9L1538.5 1020.2L1541.5 1019.5L1544.5 1018.8L1547.5 1018.0L1550.5 1017.2L1553.5 1016.4L1556.4 1015.6L1559.4 1014.7L1562.4 1013.8L1565.4 1012.9L1568.4 1012.0L1571.4 1011.1L1574.4 1010.1L1577.4 1009.2L1580.4 1008.2L1583.4 1007.2L1586.4 1006.3L1589.4 1005.3L1592.4 1004.4L1595.3 1003.5L1598.3 1002.7L1601.3 1001.9L1604.3 1001.1L1607.3 1000.4L1610.3 999.8L1613.3 999.2L1616.3 998.7L1619.3 998.3L1622.3 998.0L1625.3 997.8L1628.3 997.7L1631.2 997.6L1634.2 997.7L1637.2 997.9L1640.2 998.1L1643.2 998.5L1646.2 999.1L1649.2 999.7L1652.2 1000.4L1655.2 1001.3L1658.2 1002.3L1661.2 1003.5L1664.2 1004.7L1667.1 1006.1L1670.1 1007.7L1673.1 1009.4L1676.1 1011.3L1679.1 1013.3L1682.1 1015.5L1685.1 1017.8L1688.1 1020.3L1691.1 1022.9L1694.1 1025.8L1697.1 1028.8L1700.1 1032.0L1703.0 1035.3L1706.0 1038.9L1709.0 1042.6L1712.0 1046.5L1715.0 1050.7L1718.0 1055.0L1721.0 1059.5"/>
<path class="mean" d="M1044.5 1013.4L1047.5 1013.5L1050.5 1013.7L1053.5 1013.9L1056.5 1014.2L1059.5 1014.4L1062.5 1014.6L1065.5 1014.9L1068.4 1015.1L1071.4 1015.4L1074.4 1015.7L1077.4 1015.9L1080.4 1016.2L1083.4 1016.5L1086.4 1016.8L1089.4 1017.1L1092.4 1017.4L1095.4 1017.7L1098.4 1018.0L1101.4 1018.3L1104.4 1018.6L1107.4 1018.8L1110.4 1019.1L1113.3 1019.4L1116.3 1019.7L1119.3 1019.9L1122.3 1020.2L1125.3 1020.4L1128.3 1020.6L1131.3 1020.9L1134.3 1021.1L1137.3 1021.3L1140.3 1021.4L1143.3 1021.6L1146.3 1021.8L1149.3 1021.9L1152.3 1022.0L1155.3 1022.1L1158.2 1022.2L1161.2 1022.2L1164.2 1022.3L1167.2 1022.3L1170.2 1022.3L1173.2 1022.2L1176.2 1022.2L1179.2 1022.1L1182.2 1021.9L1185.2 1021.8L1188.2 1021.6L1191.2 1021.4L1194.2 1021.2L1197.2 1020.9L1200.2 1020.6L1203.1 1020.2L1206.1 1019.9L1209.1 1019.5L1212.1 1019.0L1215.1 1018.5L1218.1 1018.0L1221.1 1017.4L1224.1 1016.8L1227.1 1016.2L1230.1 1015.5L1233.1 1014.8L1236.1 1014.0L1239.1 1013.1L1242.1 1012.3L1245.1 1011.4L1248.0 1010.4L1251.0 1009.4L1254.0 1008.4L1257.0 1007.3L1260.0 1006.2L1263.0 1005.1L1266.0 1003.9L1269.0 1002.7L1272.0 1001.5L1275.0 1000.2L1278.0 998.9L1281.0 997.6L1284.0 996.2L1287.0 994.9L1290.0 993.5L1292.9 992.1L1295.9 990.7L1298.9 989.2L1301.9 987.8L1304.9 986.3L1307.9 984.8L1310.9 983.3L1313.9 981.8L1316.9 980.3L1319.9 978.8L1322.9 977.3L1325.9 975.8L1328.9 974.3L1331.9 972.8L1334.9 971.3L1337.8 969.9L1340.8 968.4L1343.8 967.0L1346.8 965.7L1349.8 964.3L1352.8 963.0L1355.8 961.8L1358.8 960.6L1361.8 959.4L1364.8 958.3L1367.8 957.2L1370.8 956.3L1373.8 955.3L1376.8 954.5L1379.8 953.7L1382.8 953.0L1385.7 952.3L1388.7 951.7L1391.7 951.1L1394.7 950.6L1397.7 950.2L1400.7 949.8L1403.7 949.4L1406.7 949.1L1409.7 948.9L1412.7 948.7L1415.7 948.5L1418.7 948.3L1421.7 948.2L1424.7 948.1L1427.7 948.0L1430.6 948.0L1433.6 948.0L1436.6 948.0L1439.6 948.0L1442.6 948.1L1445.6 948.1L1448.6 948.2L1451.6 948.3L1454.6 948.3L1457.6 948.4L1460.6 948.5L1463.6 948.6L1466.6 948.7L1469.6 948.7L1472.6 948.8L1475.5 948.8L1478.5 948.9L1481.5 948.9L1484.5 948.9L1487.5 948.9L1490.5 948.9L1493.5 948.8L1496.5 948.7L1499.5 948.6L1502.5 948.4L1505.5 948.2L1508.5 948.0L1511.5 947.7L1514.5 947.4L1517.5 947.0L1520.4 946.6L1523.4 946.2L1526.4 945.7L1529.4 945.1L1532.4 944.5L1535.4 943.8L1538.4 943.1L1541.4 942.3L1544.4 941.4L1547.4 940.6L1550.4 939.6L1553.4 938.6L1556.4 937.6L1559.4 936.6L1562.4 935.5L1565.3 934.4L1568.3 933.3L1571.3 932.1L1574.3 931.0L1577.3 929.8L1580.3 928.7L1583.3 927.5L1586.3 926.3L1589.3 925.2L1592.3 924.0L1595.3 922.8L1598.3 921.7L1601.3 920.6L1604.3 919.5L1607.3 918.5L1610.2 917.4L1613.2 916.4L1616.2 915.4L1619.2 914.5L1622.2 913.6L1625.2 912.7L1628.2 911.8L1631.2 911.0L1634.2 910.2L1637.2 909.4L1640.2 908.7L1643.2 907.9L1646.2 907.3L1649.2 906.6L1652.2 906.0L1655.1 905.4L1658.1 904.8L1661.1 904.3L1664.1 903.8L1667.1 903.3L1670.1 902.8L1673.1 902.4L1676.1 902.1L1679.1 901.7L1682.1 901.4L1685.1 901.1L1688.1 900.8L1691.1 900.6L1694.1 900.4L1697.1 900.2L1700.0 900.1L1703.0 900.0L1706.0 900.0L1709.0 899.9L1712.0 899.9L1715.0 900.0L1718.0 900.0L1721.0 900.1"/>
<path class="arr" d="M1170.5 878.75L1170.5 1175M1164.1 1164.4L1170.5 1175L1176.9 1164.4"/>
<rect class="box" x="1015" y="718" width="734" height="475.29999999999995"/>
<rect x="1043.25" y="716.5" width="1.5" height="3" fill="#fff"/>
<rect x="1043.4" y="1191.8" width="1.2" height="3" fill="#fff" opacity="0.8"/>
<rect x="1720.75" y="716.5" width="1.5" height="3" fill="#fff"/>
<rect x="1720.9" y="1191.8" width="1.2" height="3" fill="#fff" opacity="0.8"/>
<path class="tick" d="M1000.75 757.5H1015M1000.75 845H1015M1000.75 934.25H1015M1000.75 1021.5H1015M1000.75 1109.25H1015M1043 1193.3V1208M1170.5 1193.3V1208M1211.75 1193.3V1208M1381.75 1193.3V1208M1552 1193.3V1208M1721.75 1193.3V1208"/>
<text class="tk" text-anchor="end" transform="translate(974 771.5) scale(1 1.04)">3</text>
<text class="tk" text-anchor="end" transform="translate(974 865.5) scale(1 1.04)">2</text>
<text class="tk" text-anchor="end" transform="translate(974 959.5) scale(1 1.04)">1</text>
<text class="tk" text-anchor="end" transform="translate(974 1052.5) scale(1 1.04)">0</text>
<text class="tk" text-anchor="end" transform="translate(975 1147) scale(1 1.04)">-1</text>
<text class="tk" text-anchor="middle" transform="translate(1042.5 1237) scale(1 1.04)">2</text>
<text class="tk" text-anchor="middle" transform="translate(1214 1237) scale(1 1.04)">4</text>
<text class="tk" text-anchor="middle" transform="translate(1381.75 1237) scale(1 1.04)">6</text>
<text class="tk" text-anchor="middle" transform="translate(1551.75 1237) scale(1 1.04)">8</text>
<text class="tk" text-anchor="middle" transform="translate(1723.5 1237) scale(1 1.04)">10</text>
<text class="tt" text-anchor="middle" transform="translate(1385 787.5) scale(1 1.02)">Female</text>
<text class="rf" text-anchor="middle" transform="translate(1168 862) scale(1 1.02)">Ref = 3.5</text>
<text class="ax" text-anchor="middle" transform="translate(1389.5 1287.1) scale(1 1.0)">Serum uric acid level (mg/dL)</text>
<text class="ax" text-anchor="middle" xml:space="preserve" style="white-space:pre" transform="translate(918.4 976.3) rotate(-90) scale(1 1.02)">Ln(HR)  for MACCE</text>
<text class="lab" transform="translate(903.1 698.8) scale(1 1.04)">D</text>
</g>
</svg>
</body></html>
